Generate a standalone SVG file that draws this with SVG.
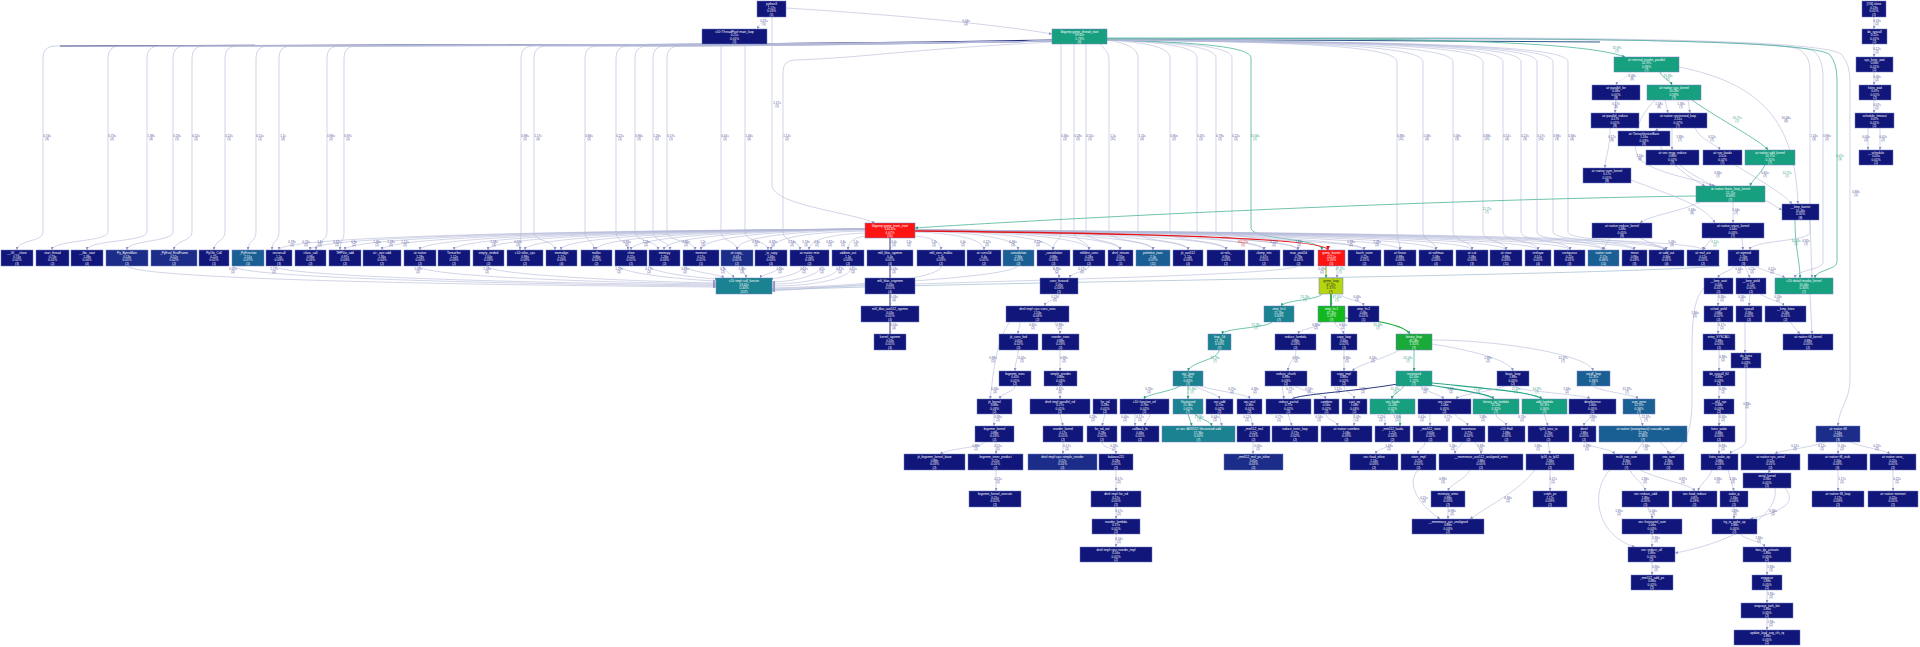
<svg xmlns="http://www.w3.org/2000/svg" width="1920" height="647" viewBox="0 0 1920 647">
<defs>
<style>
rect{stroke:#7680c0;stroke-width:.5}
rect.bg{stroke:none;fill:#ffffff}
.nv{fill:#11167a}.nb{fill:#1b2d88}.tb{fill:#1a5f94}.tl{fill:#1a8290}.tg{fill:#17a07f}.gr{fill:#12b81e}.g2{fill:#19aa3a}.yg{fill:#b5d50e}.rd{fill:#ff1414}
.t{font-family:"Liberation Sans",Arial,sans-serif;font-size:3.1px;fill:#ffffff;text-anchor:middle}
.yg+.t{fill:#222}
.lb{font-family:"Liberation Sans",Arial,sans-serif;font-size:3px;fill:#4b4f96;text-anchor:middle}
.lg{fill:#2f9e84}.lr{fill:#e01818}
.e{fill:none;stroke:#b3b8d8;stroke-width:.6;marker-end:url(#ah)}
.ed{fill:none;stroke:#27327c;stroke-width:1.1}
.et{fill:none;stroke:#4db49a;stroke-width:.8;marker-end:url(#at)}
.er{fill:none;stroke:#e5151a;stroke-width:1.6;marker-end:url(#ar)}
.ey{fill:none;stroke:#9ec21a;stroke-width:1.2;marker-end:url(#at)}
.eg{fill:none;stroke:#1cab3a;stroke-width:1.2;marker-end:url(#at)}
.ek{fill:none;stroke:#2b3a80;stroke-width:1;marker-end:url(#ah)}
.dash{stroke-dasharray:1.5 1}
</style>
<marker id="ah" viewBox="0 0 6 6" refX="6" refY="3" markerWidth="3" markerHeight="3" orient="auto" markerUnits="userSpaceOnUse"><path d="M0,0L6,3L0,6z" fill="#8c92c4"/></marker>
<marker id="at" viewBox="0 0 6 6" refX="6" refY="3" markerWidth="3" markerHeight="3" orient="auto" markerUnits="userSpaceOnUse"><path d="M0,0L6,3L0,6z" fill="#2f9e84"/></marker>
<marker id="ar" viewBox="0 0 6 6" refX="6" refY="3" markerWidth="4" markerHeight="4" orient="auto" markerUnits="userSpaceOnUse"><path d="M0,0L6,3L0,6z" fill="#e5151a"/></marker>
</defs>
<rect class="bg" x="0" y="0" width="1920" height="647"/>

<g id="connectors">
<!-- top -->
<path class="e dash" d="M766,17 C763,22 760,24 757,29"/>
<path class="e" d="M786,8 C900,15 1000,25 1052,34"/>
<path class="e" d="M772,17 L772,185 C772,205 850,212 875,223"/>
<!-- C left bundle -->
<path class="ed" d="M1052,40 C900,43 700,45 400,45 C250,45 150,46 60,46"/>
<path class="e" d="M1052,41 C850,45 123,46 55,46 Q43,46 43,58 L43,232 C43,242 17,240 17,250"/>
<path class="e" d="M1052,41 C850,45 188,46 120,46 Q108,46 108,58 L108,232 C108,242 52,240 52,250"/>
<path class="e" d="M1052,41 C850,45 227,46 159,46 Q147,46 147,58 L147,232 C147,242 87,240 87,250"/>
<path class="e" d="M1052,41 C850,45 253,46 185,46 Q173,46 173,58 L173,232 C173,242 127,240 127,250"/>
<path class="e" d="M1052,41 C850,45 272,46 204,46 Q192,46 192,58 L192,232 C192,242 174,240 174,250"/>
<path class="e" d="M1052,41 C850,45 305,46 237,46 Q225,46 225,58 L225,232 C225,242 214,240 214,250"/>
<path class="e" d="M1052,41 C850,45 336,46 268,46 Q256,46 256,58 L256,232 C256,242 248,240 248,250"/>
<path class="e" d="M1052,41 C850,45 359,46 291,46 Q279,46 279,58 L279,232 C279,242 272,240 272,250"/>
<path class="e" d="M1052,41 C850,45 407,46 339,46 Q327,46 327,58 L327,232 C327,242 316,240 316,250"/>
<path class="e" d="M1052,41 C850,45 424,46 356,46 Q344,46 344,58 L344,232 C344,242 340,240 340,250"/>
<path class="e" d="M1052,41 C850,45 601,46 533,46 Q521,46 521,58 L521,232 C521,242 520,240 520,250"/>
<path class="e" d="M1052,41 C850,45 614,46 546,46 Q534,46 534,58 L534,232 C534,242 555,240 555,250"/>
<path class="e" d="M1052,41 C850,45 665,46 597,46 Q585,46 585,58 L585,232 C585,242 594,240 594,250"/>
<path class="e" d="M1052,41 C850,45 696,46 628,46 Q616,46 616,58 L616,232 C616,242 628,240 628,250"/>
<path class="e" d="M1052,41 C850,45 715,46 647,46 Q635,46 635,58 L635,232 C635,242 658,240 658,250"/>
<path class="e" d="M1052,41 C850,45 733,46 665,46 Q653,46 653,58 L653,232 C653,242 670,240 670,250"/>
<path class="e" d="M1052,41 C850,45 747,46 679,46 Q667,46 667,58 L667,232 C667,242 695,240 695,250"/>
<path class="e" d="M721,44 L721,232 C721,242 737,240 737,250"/>
<path class="e" d="M745,44 L745,232 C745,242 768,240 768,250"/>
<path class="e" d="M1052,42 C900,50 860,58 795,60 Q783,60 783,72 L783,232 C783,242 800,240 800,250"/>
<!-- C right bundle -->
<path class="ed" style="stroke:#2d5a88" d="M1107,39 C1300,40 1500,41 1600,42"/>
<path class="e" d="M1061,44 L1061,232 C1061,242 1053,240 1053,250"/>
<path class="e" d="M1074,44 L1074,232 C1074,242 1089,240 1089,250"/>
<path class="e" d="M1086,44 L1086,232 C1086,242 1120,240 1120,250"/>
<path class="e" d="M1100,44 C1105,50 1109,52 1109,60 L1109,232 C1109,242 1153,240 1153,250"/>
<path class="e" d="M1107,40 C1120,42 1138,46 1138,58 L1138,232 C1138,242 1188,240 1188,250"/>
<path class="e" d="M1107,40 C1140,42 1170,46 1170,58 L1170,232 C1170,242 1226,240 1226,250"/>
<path class="e" d="M1107,40 C1160,42 1197,46 1197,58 L1197,232 C1197,242 1264,240 1264,250"/>
<path class="e" d="M1107,40 C1170,42 1216,46 1216,58 L1216,232 C1216,242 1298,240 1298,250"/>
<path class="e" d="M1107,40 C1180,42 1232,46 1232,58 L1232,232 C1232,242 1364,240 1364,250"/>
<path class="et" d="M1107,40 C1190,42 1251,46 1251,58 L1251,228 C1251,240 1322,238 1322,250"/>
<path class="e" d="M1107,40 C1300,42 1397,46 1397,62 L1397,232 C1397,242 1400,240 1400,250"/>
<path class="e" d="M1107,40 C1320,42 1423,46 1423,62 L1423,232 C1423,242 1436,240 1436,250"/>
<path class="e" d="M1107,40 C1340,42 1453,46 1453,62 L1453,232 C1453,242 1472,240 1472,250"/>
<path class="e" d="M1107,40 C1370,42 1483,46 1483,62 L1483,232 C1483,242 1506,240 1506,250"/>
<path class="e" d="M1107,40 C1390,42 1503,46 1503,62 L1503,232 C1503,242 1538,240 1538,250"/>
<path class="e" d="M1107,40 C1410,42 1521,46 1521,62 L1521,232 C1521,242 1570,240 1570,250"/>
<path class="e" d="M1107,40 C1420,42 1537,46 1537,62 L1537,232 C1537,242 1603,240 1603,250"/>
<path class="e" d="M1107,40 C1430,42 1553,46 1553,62 L1553,232 C1553,242 1634,240 1634,250"/>
<path class="e" d="M1107,40 C1440,42 1568,46 1568,62 L1568,232 C1568,242 1666,240 1666,250"/>
<path class="e" d="M1107,40 C1500,38 1780,38 1800,50 Q1810,56 1810,70 L1810,232 C1810,242 1750,240 1750,250"/>
<path class="e" d="M1107,40 C1500,38 1800,38 1815,52 Q1823,60 1823,76 L1823,262 C1823,270 1795,270 1795,278"/>
<path class="et" d="M1107,39 C1500,37 1815,38 1830,55 Q1837,63 1837,80 L1837,262 C1837,270 1815,270 1815,278"/>
<path class="e" d="M1107,39 C1500,36 1830,37 1842,55 Q1850,64 1850,82 L1850,380 C1850,400 1838,410 1838,426"/>
<path class="et" d="M1107,38 C1400,38 1580,40 1625,57"/>
<!-- red out edges -->
<path class="e" d="M865,229 C572,231 279,236 279,250"/>
<path class="e" d="M865,229 C588,231 310,236 310,250"/>
<path class="e" d="M865,229 C605,231 345,236 345,250"/>
<path class="e" d="M865,229 C624,231 382,236 382,250"/>
<path class="e" d="M865,229 C642,231 420,236 420,250"/>
<path class="e" d="M865,229 C660,231 454,236 454,250"/>
<path class="e" d="M865,229 C676,231 488,236 488,250"/>
<path class="e" d="M865,229 C695,231 525,236 525,250"/>
<path class="e" d="M865,229 C713,231 561,236 561,250"/>
<path class="e" d="M865,229 C730,231 596,236 596,250"/>
<path class="e" d="M865,229 C748,231 631,236 631,250"/>
<path class="e" d="M865,229 C764,231 664,236 664,250"/>
<path class="e" d="M865,229 C783,231 701,236 701,250"/>
<path class="e" d="M865,230 C801,231 737,236 737,250"/>
<path class="e" d="M865,231 C818,232 771,236 771,250"/>
<path class="e" d="M866,233 C837,234 809,238 809,250"/>
<path class="e" d="M867,236 C856,237 848,240 848,250"/>
<path class="ek" d="M890,238 L890,250"/>
<path class="e" d="M914,236 C928,237 941,240 941,250"/>
<path class="e" d="M915,232 C950,233 984,238 984,250"/>
<path class="e" d="M915,231 C966,232 1018,237 1018,250"/>
<path class="e" d="M915,230 C984,232 1053,237 1053,250"/>
<path class="e" d="M915,230 C1002,232 1089,237 1089,250"/>
<path class="e" d="M915,230 C1018,232 1120,237 1120,250"/>
<path class="e" d="M915,230 C1034,232 1153,237 1153,250"/>
<path class="e" d="M915,230 C1052,232 1188,237 1188,250"/>
<path class="e" d="M915,230 C1070,232 1226,237 1226,250"/>
<path class="e" d="M915,230 C1090,232 1264,237 1264,250"/>
<path class="e" d="M915,230 C1106,232 1298,237 1298,250"/>
<path class="e" d="M915,230 C1140,232 1364,237 1364,250"/>
<path class="e" d="M915,230 C1158,232 1400,237 1400,250"/>
<path class="e" d="M915,230 C1176,232 1436,237 1436,250"/>
<path class="e" d="M915,230 C1194,232 1472,237 1472,250"/>
<path class="e" d="M915,230 C1210,232 1506,237 1506,250"/>
<path class="e" d="M915,230 C1226,232 1538,237 1538,250"/>
<path class="e" d="M915,230 C1242,232 1570,237 1570,250"/>
<path class="e" d="M915,230 C1260,232 1603,237 1603,250"/>
<path class="e" d="M915,230 C1274,232 1634,237 1634,250"/>
<path class="e" d="M915,230 C1290,232 1666,237 1666,250"/>
<path class="e" d="M915,230 C1310,232 1703,237 1703,250"/>
<path class="er" d="M915,231 C1130,233 1328,238 1328,250"/>
<!-- into red -->
<path class="et" d="M1696,196 C1400,200 1000,222 915,228"/>
<!-- row to V -->
<path class="e" d="M127,266 C140,282 600,286 716,287"/>
<path class="e" d="M233,266 C240,280 600,285 716,286"/>
<path class="e" d="M274,266 C280,278 600,284 716,285"/>
<path class="e" d="M418,266 C425,278 640,283 716,284"/>
<path class="e" d="M487,266 C490,276 660,282 716,283"/>
<path class="e" d="M619,266 C622,274 690,280 716,281"/>
<path class="e" d="M649,266 C652,273 700,278 718,279"/>
<path class="e" d="M685,266 C688,272 720,274 724,278"/>
<path class="e" d="M723,266 C725,272 732,274 734,278"/>
<path class="e" d="M742,266 C742,272 746,274 746,278"/>
<path class="e" d="M780,266 C780,272 762,274 760,278"/>
<path class="e" d="M804,266 C802,274 780,278 770,279"/>
<path class="e" d="M822,266 C820,276 790,282 772,282"/>
<path class="e" d="M840,266 C838,278 800,284 772,284"/>
<path class="e" d="M853,266 C850,280 810,286 772,286"/>
<path class="e" d="M941,266 C941,280 850,286 772,288"/>
<path class="e" style="stroke:#8fb0c8" d="M1720,266 C1600,276 1000,281 772,290"/>
<path class="e" d="M1298,266 C1280,276 1000,280 772,289"/>
<path class="e" d="M1018,266 C1010,276 900,282 772,291"/>
<!-- chains -->
<path class="ek" d="M890,266 L890,278"/>
<path class="ek" d="M890,294 L890,306"/>
<path class="ek" d="M890,322 L890,334"/>
<path class="e" d="M1053,266 C1053,272 1059,272 1059,278"/>
<path class="e" d="M1089,266 C1089,272 1070,272 1070,278"/>
<path class="e" d="M1059,294 C1059,300 1045,300 1045,306"/>
<path class="e" d="M1020,322 C1020,328 1018,328 1018,334"/>
<path class="e" d="M1055,322 C1055,328 1060,328 1060,334"/>
<path class="e" d="M1010,322 C995,340 993,380 990,399"/>
<path class="e" d="M1018,350 C1018,360 1015,362 1015,371"/>
<path class="e" d="M1060,350 L1060,371"/>
<path class="e" d="M1015,386 C1015,392 1000,393 1000,399"/>
<path class="e" d="M1060,386 L1060,399"/>
<path class="ey" d="M1326,266 L1326,278"/>
<path class="e" d="M1337,266 L1337,278"/>
<path class="et" d="M1322,294 C1318,300 1285,300 1281,306"/>
<path class="eg" style="stroke-width:1.8" d="M1331,294 L1331,306"/>
<path class="e" d="M1340,294 C1345,300 1362,300 1364,306"/>
<path class="et" d="M1272,322 C1268,328 1224,328 1222,334"/>
<path class="e" d="M1322,322 C1320,328 1300,328 1298,334"/>
<path class="e" d="M1335,322 C1336,328 1342,328 1344,334"/>
<path class="eg" d="M1345,318 C1380,320 1405,326 1410,334"/>
<path class="et" d="M1219,350 C1219,360 1190,362 1188,371"/>
<path class="e" d="M1296,350 C1296,360 1288,362 1288,371"/>
<path class="e" d="M1344,350 L1344,371"/>
<path class="et" d="M1414,350 L1414,371"/>
<path class="e" d="M1400,350 C1380,360 1360,364 1352,371"/>
<path class="e" d="M1432,344 C1470,350 1510,360 1513,371"/>
<path class="e" d="M1432,340 C1500,340 1590,355 1593,371"/>
<path class="et" d="M1180,386 C1170,392 1146,394 1144,399"/>
<path class="et" d="M1188,386 L1188,399"/>
<path class="e" d="M1195,386 C1205,392 1218,394 1220,399"/>
<path class="e" d="M1200,386 C1220,392 1248,394 1250,399"/>
<path class="e" d="M1282,386 L1284,399"/>
<path class="e" d="M1295,386 C1305,392 1324,394 1326,399"/>
<path class="e" d="M1344,386 C1344,392 1354,394 1354,399"/>
<path class="ek" d="M1398,384 C1350,392 1300,394 1292,399"/>
<path class="et" d="M1404,386 C1400,392 1392,394 1392,399"/>
<path class="e" d="M1420,386 C1425,392 1440,394 1444,399"/>
<path class="eg" style="stroke:#27a88a" d="M1430,385 C1460,390 1490,394 1494,399"/>
<path class="eg" style="stroke:#27a88a" d="M1432,383 C1480,388 1535,392 1542,399"/>
<path class="e" d="M1513,386 C1520,392 1585,394 1590,399"/>
<path class="e" d="M1505,386 C1490,392 1460,394 1456,399"/>
<path class="e" d="M1593,386 C1600,392 1635,394 1638,399"/>
<!-- R4 to R5 -->
<path class="e" d="M994,414 L994,426"/>
<path class="e" d="M1060,414 L1063,426"/>
<path class="e" d="M1105,414 L1102,426"/>
<path class="e" d="M1135,414 L1135,426"/>
<path class="e" d="M1150,414 C1150,420 1145,420 1145,426"/>
<path class="et" d="M1188,414 L1192,426"/>
<path class="et" d="M1195,414 C1200,420 1210,420 1212,426"/>
<path class="e" d="M1219,414 L1222,426"/>
<path class="e" d="M1250,414 L1253,426"/>
<path class="e" d="M1288,414 L1292,426"/>
<path class="e" d="M1326,414 C1326,420 1336,420 1338,426"/>
<path class="e" d="M1354,414 L1354,426"/>
<path class="e" d="M1385,414 L1385,426"/>
<path class="et" d="M1400,414 L1400,426"/>
<path class="e" d="M1430,414 L1430,426"/>
<path class="e" d="M1455,414 C1458,420 1466,420 1468,426"/>
<path class="e" d="M1496,414 C1496,420 1506,420 1506,426"/>
<path class="e" d="M1544,414 L1548,426"/>
<path class="e" d="M1592,414 C1592,420 1584,420 1584,426"/>
<path class="e" d="M1639,414 L1643,426"/>
<path class="e" d="M1719,414 L1719,426"/>
<!-- R5 to R6 -->
<path class="e" d="M985,442 C980,448 950,448 940,454"/>
<path class="e" d="M996,442 L996,454"/>
<path class="e" d="M1063,442 L1063,454"/>
<path class="e" d="M1102,442 C1102,448 1116,448 1116,454"/>
<path class="e" d="M1253,442 L1253,454"/>
<path class="e" d="M1392,442 C1392,448 1376,448 1376,454"/>
<path class="e" d="M1425,442 C1425,448 1418,448 1418,454"/>
<path class="e" d="M1462,442 C1460,448 1455,448 1455,454"/>
<path class="e" d="M1475,442 C1478,448 1481,448 1481,454"/>
<path class="e" d="M1548,442 L1550,454"/>
<path class="e" d="M1584,442 C1590,448 1610,448 1615,454"/>
<path class="e" d="M1643,442 L1635,454"/>
<path class="e" d="M1660,442 C1665,448 1668,448 1668,454"/>
<path class="e" d="M1719,442 L1719,454"/>
<path class="e" d="M1825,442 C1810,448 1780,450 1775,454"/>
<path class="e" d="M1838,442 L1838,454"/>
<path class="e" d="M1850,442 C1865,448 1885,450 1890,454"/>
<path class="e" d="M1770,470 L1768,473"/>
<!-- R6 to R7 and below -->
<path class="e" d="M996,470 L996,491"/>
<path class="e" d="M1116,470 L1116,491"/>
<path class="e" d="M1470,470 C1465,480 1450,484 1448,491"/>
<path class="e" d="M1550,470 L1550,491"/>
<path class="e" d="M1630,470 C1635,480 1645,484 1645,491"/>
<path class="e" d="M1640,470 C1660,480 1690,484 1695,491"/>
<path class="e" d="M1712,470 C1708,480 1700,484 1698,491"/>
<path class="e" d="M1728,470 L1734,491"/>
<path class="e" d="M1838,470 L1838,491"/>
<path class="e" d="M1893,470 L1893,491"/>
<path class="e" d="M1418,470 C1405,485 1420,505 1440,519"/>
<path class="e" d="M1535,470 C1520,490 1490,505 1470,519"/>
<path class="e" d="M1116,507 L1116,519"/>
<path class="e" d="M1448,507 L1448,519"/>
<path class="e" d="M1648,507 C1648,513 1652,513 1652,519"/>
<path class="e" d="M1734,507 L1734,519"/>
<path class="e" d="M1610,470 C1590,490 1595,535 1635,547"/>
<path class="e" d="M1785,488 C1795,500 1790,510 1750,519"/>
<path class="e" d="M1775,488 C1780,520 1720,545 1675,553"/>
<path class="e" d="M1116,534 L1116,547"/>
<path class="e" d="M1652,534 L1652,547"/>
<path class="e" d="M1740,534 C1745,540 1762,541 1765,547"/>
<path class="e" d="M1652,562 L1652,575"/>
<path class="e" d="M1767,562 L1767,575"/>
<path class="e" d="M1767,590 L1767,603"/>
<path class="e" d="M1767,618 L1767,630"/>
<!-- right column -->
<path class="e" d="M1874,17 L1874,29"/>
<path class="e" d="M1874,44 L1874,57"/>
<path class="e" d="M1874,72 L1874,85"/>
<path class="e" d="M1874,100 L1874,113"/>
<path class="e" d="M1868,128 L1868,150"/>
<path class="e" d="M1880,128 L1880,150"/>
<!-- top right -->
<path class="e dash" d="M1630,72 C1628,78 1618,80 1616,85"/>
<path class="et" d="M1660,72 C1662,78 1670,80 1672,85"/>
<path class="e" d="M1679,67 C1770,85 1795,130 1798,204"/>
<path class="e" d="M1616,100 L1615,113"/>
<path class="e" d="M1665,100 L1668,113"/>
<path class="e" d="M1688,100 L1690,113"/>
<path class="et" d="M1692,100 C1720,120 1760,140 1768,150"/>
<path class="e" d="M1655,100 C1635,120 1630,145 1640,160 C1660,175 1700,180 1715,186"/>
<path class="e" d="M1610,128 C1610,150 1605,158 1605,168"/>
<path class="e" d="M1660,128 L1655,131"/>
<path class="e" d="M1672,128 L1672,150"/>
<path class="e" d="M1695,128 C1700,140 1718,145 1720,150"/>
<path class="e" d="M1660,146 C1670,165 1690,178 1705,186"/>
<path class="e" d="M1680,165 C1690,175 1705,180 1712,186"/>
<path class="e" d="M1735,165 C1760,180 1785,195 1792,204"/>
<path class="et" d="M1765,165 C1760,175 1752,180 1750,186"/>
<path class="e" d="M1631,180 C1670,195 1705,205 1715,223"/>
<path class="e" d="M1700,202 C1680,212 1650,215 1640,223"/>
<path class="e" d="M1733,202 L1733,223"/>
<path class="e" d="M1765,200 L1782,210"/>
<path class="et" d="M1795,220 C1795,250 1800,260 1800,278"/>
<path class="e" d="M1810,220 L1812,278"/>
<path class="e" d="M1742,238 L1743,250"/>
<path class="e" d="M1712,238 L1703,250"/>
<path class="e" d="M1610,238 L1603,250"/>
<path class="e" d="M1640,238 L1666,250"/>
<path class="e" d="M1735,266 C1730,272 1720,272 1718,278"/>
<path class="e" d="M1745,266 L1750,278"/>
<path class="e" d="M1755,266 C1765,272 1780,274 1785,278"/>
<path class="e" d="M1718,294 L1718,306"/>
<path class="e" d="M1750,294 L1749,306"/>
<path class="e" d="M1760,294 C1770,300 1782,302 1784,306"/>
<path class="e" d="M1718,322 L1718,334"/>
<path class="e" d="M1745,322 L1745,353"/>
<path class="e" d="M1790,322 L1800,334"/>
<path class="e" d="M1810,294 L1812,334"/>
<path class="e" d="M1719,350 L1719,371"/>
<path class="e" d="M1719,386 L1719,399"/>
<path class="e" d="M1719,414 L1719,426"/>
<path class="e" d="M1746,368 L1746,440 C1746,448 1732,450 1730,454"/>
<path class="e" d="M1706,286 C1690,300 1692,330 1692,400 C1692,440 1680,450 1668,454"/>
</g>

<g id="edge-labels">
<text class="lb" x="764" y="22">0.21s<tspan x="764" dy="3.2">(5)</tspan></text>
<text class="lb" x="966" y="22">0.04s<tspan x="966" dy="3.2">(2)</tspan></text>
<text class="lb" x="777" y="104">1.17s<tspan x="777" dy="3.2">(1)</tspan></text>
<text class="lb" x="47" y="137">0.74s<tspan x="47" dy="3.2">(3)</tspan></text>
<text class="lb" x="112" y="137">0.73s<tspan x="112" dy="3.2">(2)</tspan></text>
<text class="lb" x="151" y="137">1.38s<tspan x="151" dy="3.2">(4)</tspan></text>
<text class="lb" x="177" y="137">0.13s<tspan x="177" dy="3.2">(1)</tspan></text>
<text class="lb" x="196" y="137">0.52s<tspan x="196" dy="3.2">(2)</tspan></text>
<text class="lb" x="229" y="137">0.22s<tspan x="229" dy="3.2">(1)</tspan></text>
<text class="lb" x="260" y="137">0.51s<tspan x="260" dy="3.2">(1)</tspan></text>
<text class="lb" x="283" y="137">1.1s<tspan x="283" dy="3.2">(3)</tspan></text>
<text class="lb" x="331" y="137">0.96s<tspan x="331" dy="3.2">(2)</tspan></text>
<text class="lb" x="348" y="137">0.97s<tspan x="348" dy="3.2">(2)</tspan></text>
<text class="lb" x="525" y="137">0.98s<tspan x="525" dy="3.2">(2)</tspan></text>
<text class="lb" x="538" y="137">1.17s<tspan x="538" dy="3.2">(4)</tspan></text>
<text class="lb" x="589" y="137">0.86s<tspan x="589" dy="3.2">(2)</tspan></text>
<text class="lb" x="620" y="137">0.22s<tspan x="620" dy="3.2">(1)</tspan></text>
<text class="lb" x="639" y="137">0.96s<tspan x="639" dy="3.2">(2)</tspan></text>
<text class="lb" x="657" y="137">1.26s<tspan x="657" dy="3.2">(2)</tspan></text>
<text class="lb" x="671" y="137">0.17s<tspan x="671" dy="3.2">(1)</tspan></text>
<text class="lb" x="725" y="137">0.41s<tspan x="725" dy="3.2">(2)</tspan></text>
<text class="lb" x="749" y="137">1.46s<tspan x="749" dy="3.2">(4)</tspan></text>
<text class="lb" x="787" y="137">1.12s<tspan x="787" dy="3.2">(2)</tspan></text>
<text class="lb" x="1065" y="137">0.36s<tspan x="1065" dy="3.2">(2)</tspan></text>
<text class="lb" x="1078" y="137">0.28s<tspan x="1078" dy="3.2">(2)</tspan></text>
<text class="lb" x="1090" y="137">0.55s<tspan x="1090" dy="3.2">(1)</tspan></text>
<text class="lb" x="1113" y="137">1.5s<tspan x="1113" dy="3.2">(11)</tspan></text>
<text class="lb" x="1142" y="137">1.11s<tspan x="1142" dy="3.2">(4)</tspan></text>
<text class="lb" x="1174" y="137">0.90s<tspan x="1174" dy="3.2">(2)</tspan></text>
<text class="lb" x="1201" y="137">0.47s<tspan x="1201" dy="3.2">(2)</tspan></text>
<text class="lb" x="1220" y="137">0.78s<tspan x="1220" dy="3.2">(2)</tspan></text>
<text class="lb" x="1236" y="137">0.22s<tspan x="1236" dy="3.2">(2)</tspan></text>
<text class="lb lg" x="1255" y="137">10.34s<tspan x="1255" dy="3.2">(1)</tspan></text>
<text class="lb" x="1401" y="137">0.88s<tspan x="1401" dy="3.2">(11)</tspan></text>
<text class="lb" x="1427" y="137">1.08s<tspan x="1427" dy="3.2">(4)</tspan></text>
<text class="lb" x="1457" y="137">1.08s<tspan x="1457" dy="3.2">(3)</tspan></text>
<text class="lb" x="1487" y="137">0.88s<tspan x="1487" dy="3.2">(11)</tspan></text>
<text class="lb" x="1507" y="137">0.51s<tspan x="1507" dy="3.2">(4)</tspan></text>
<text class="lb" x="1525" y="137">0.22s<tspan x="1525" dy="3.2">(3)</tspan></text>
<text class="lb" x="1541" y="137">0.17s<tspan x="1541" dy="3.2">(11)</tspan></text>
<text class="lb" x="1557" y="137">0.96s<tspan x="1557" dy="3.2">(3)</tspan></text>
<text class="lb" x="1572" y="137">0.36s<tspan x="1572" dy="3.2">(4)</tspan></text>
<text class="lb" x="1814" y="137">1.16s<tspan x="1814" dy="3.2">(3)</tspan></text>
<text class="lb" x="1827" y="137">0.96s<tspan x="1827" dy="3.2">(2)</tspan></text>
<text class="lb lg" x="1840" y="157">6.47s<tspan x="1840" dy="3.2">(3)</tspan></text>
<text class="lb" x="1856" y="193">0.88s<tspan x="1856" dy="3.2">(1)</tspan></text>
<text class="lb lg" x="1617" y="49">32.97s<tspan x="1617" dy="3.2">(7)</tspan></text>
<text class="lb" x="1632" y="77">0.08s<tspan x="1632" dy="3.2">(8)</tspan></text>
<text class="lb lg" x="1668" y="77">20.33s<tspan x="1668" dy="3.2">(7)</tspan></text>
<text class="lb" x="1616" y="105">0.17s<tspan x="1616" dy="3.2">(8)</tspan></text>
<text class="lb" x="1659" y="105">1.18s<tspan x="1659" dy="3.2">(8)</tspan></text>
<text class="lb" x="1681" y="105">1.33s<tspan x="1681" dy="3.2">(7)</tspan></text>
<text class="lb lg" x="1737" y="119">10.71s<tspan x="1737" dy="3.2">(7)</tspan></text>
<text class="lb" x="1786" y="119">10.44s<tspan x="1786" dy="3.2">(8)</tspan></text>
<text class="lb" x="1612" y="138">0.17s<tspan x="1612" dy="3.2">(8)</tspan></text>
<text class="lb" x="1680" y="138">1.88s<tspan x="1680" dy="3.2">(7)</tspan></text>
<text class="lb" x="1712" y="138">0.52s<tspan x="1712" dy="3.2">(7)</tspan></text>
<text class="lb" x="1640" y="157">1.16s<tspan x="1640" dy="3.2">(8)</tspan></text>
<text class="lb" x="1718" y="174">0.86s<tspan x="1718" dy="3.2">(7)</tspan></text>
<text class="lb" x="1765" y="174">0.65s<tspan x="1765" dy="3.2">(7)</tspan></text>
<text class="lb lg" x="1787" y="174">10.71s<tspan x="1787" dy="3.2">(7)</tspan></text>
<text class="lb lg" x="1487" y="210">21.71s<tspan x="1487" dy="3.2">(7)</tspan></text>
<text class="lb" x="1692" y="211">1.68s<tspan x="1692" dy="3.2">(8)</tspan></text>
<text class="lb" x="1736" y="211">1.04s<tspan x="1736" dy="3.2">(7)</tspan></text>
<text class="lb lg" x="1796" y="242">10.43s<tspan x="1796" dy="3.2">(7)</tspan></text>
<text class="lb" x="1806" y="242">0.92s<tspan x="1806" dy="3.2">(7)</tspan></text>
<text class="lb" x="1877" y="22">0.19s<tspan x="1877" dy="3.2">(2)</tspan></text>
<text class="lb" x="1877" y="50">0.12s<tspan x="1877" dy="3.2">(2)</tspan></text>
<text class="lb" x="1877" y="78">0.08s<tspan x="1877" dy="3.2">(2)</tspan></text>
<text class="lb" x="1877" y="106">0.07s<tspan x="1877" dy="3.2">(2)</tspan></text>
<text class="lb" x="1866" y="138">0.05s<tspan x="1866" dy="3.2">(2)</tspan></text>
<text class="lb" x="1883" y="138">0.02s<tspan x="1883" dy="3.2">(2)</tspan></text>
<text class="lb" x="292" y="243">0.78s<tspan x="292" dy="3.2">(2)</tspan></text>
<text class="lb" x="306" y="243">0.73s<tspan x="306" dy="3.2">(2)</tspan></text>
<text class="lb" x="320" y="243">1.1s<tspan x="320" dy="3.2">(2)</tspan></text>
<text class="lb" x="337" y="243">0.42s<tspan x="337" dy="3.2">(2)</tspan></text>
<text class="lb" x="354" y="243">0.9s<tspan x="354" dy="3.2">(2)</tspan></text>
<text class="lb" x="377" y="243">1.36s<tspan x="377" dy="3.2">(2)</tspan></text>
<text class="lb" x="391" y="243">1.28s<tspan x="391" dy="3.2">(2)</tspan></text>
<text class="lb" x="405" y="243">1.12s<tspan x="405" dy="3.2">(2)</tspan></text>
<text class="lb" x="494" y="243">1.04s<tspan x="494" dy="3.2">(2)</tspan></text>
<text class="lb" x="518" y="243">0.52s<tspan x="518" dy="3.2">(2)</tspan></text>
<text class="lb" x="627" y="243">0.86s<tspan x="627" dy="3.2">(2)</tspan></text>
<text class="lb" x="646" y="243">1.11s<tspan x="646" dy="3.2">(2)</tspan></text>
<text class="lb" x="686" y="243">0.96s<tspan x="686" dy="3.2">(2)</tspan></text>
<text class="lb" x="703" y="243">1.2s<tspan x="703" dy="3.2">(2)</tspan></text>
<text class="lb" x="756" y="243">0.92s<tspan x="756" dy="3.2">(2)</tspan></text>
<text class="lb" x="773" y="243">0.33s<tspan x="773" dy="3.2">(2)</tspan></text>
<text class="lb" x="792" y="243">0.14s<tspan x="792" dy="3.2">(2)</tspan></text>
<text class="lb" x="806" y="243">1.19s<tspan x="806" dy="3.2">(2)</tspan></text>
<text class="lb" x="817" y="243">0.6s<tspan x="817" dy="3.2">(2)</tspan></text>
<text class="lb" x="830" y="243">0.82s<tspan x="830" dy="3.2">(2)</tspan></text>
<text class="lb" x="843" y="243">0.9s<tspan x="843" dy="3.2">(2)</tspan></text>
<text class="lb" x="856" y="243">1.1s<tspan x="856" dy="3.2">(2)</tspan></text>
<text class="lb" x="894" y="243">0.4s<tspan x="894" dy="3.2">(2)</tspan></text>
<text class="lb" x="909" y="243">1.2s<tspan x="909" dy="3.2">(2)</tspan></text>
<text class="lb" x="934" y="243">1.2s<tspan x="934" dy="3.2">(2)</tspan></text>
<text class="lb" x="963" y="243">0.4s<tspan x="963" dy="3.2">(2)</tspan></text>
<text class="lb" x="987" y="243">0.22s<tspan x="987" dy="3.2">(2)</tspan></text>
<text class="lb" x="1013" y="243">0.36s<tspan x="1013" dy="3.2">(2)</tspan></text>
<text class="lb" x="1038" y="243">0.22s<tspan x="1038" dy="3.2">(2)</tspan></text>
<text class="lb lr" x="1243" y="243">102.21s<tspan x="1243" dy="3.2">(5)</tspan></text>
<text class="lb" x="1274" y="243">0.22s<tspan x="1274" dy="3.2">(2)</tspan></text>
<text class="lb" x="1299" y="243">1.88s<tspan x="1299" dy="3.2">(2)</tspan></text>
<text class="lb" x="1351" y="243">0.39s<tspan x="1351" dy="3.2">(2)</tspan></text>
<text class="lb" x="1377" y="243">1.08s<tspan x="1377" dy="3.2">(2)</tspan></text>
<text class="lb" x="1672" y="243">1.08s<tspan x="1672" dy="3.2">(2)</tspan></text>
<text class="lb lg" x="1715" y="243">0.12s<tspan x="1715" dy="3.2">(2)</tspan></text>
<text class="lb" x="233" y="270">0.92s<tspan x="233" dy="3.2">(2)</tspan></text>
<text class="lb" x="274" y="270">1.17s<tspan x="274" dy="3.2">(2)</tspan></text>
<text class="lb" x="418" y="270">1.08s<tspan x="418" dy="3.2">(2)</tspan></text>
<text class="lb" x="487" y="270">1.08s<tspan x="487" dy="3.2">(2)</tspan></text>
<text class="lb" x="619" y="270">1.28s<tspan x="619" dy="3.2">(2)</tspan></text>
<text class="lb" x="649" y="270">0.17s<tspan x="649" dy="3.2">(2)</tspan></text>
<text class="lb" x="685" y="270">0.86s<tspan x="685" dy="3.2">(2)</tspan></text>
<text class="lb" x="723" y="270">0.8s<tspan x="723" dy="3.2">(2)</tspan></text>
<text class="lb" x="742" y="270">1.08s<tspan x="742" dy="3.2">(2)</tspan></text>
<text class="lb" x="780" y="270">1.06s<tspan x="780" dy="3.2">(2)</tspan></text>
<text class="lb" x="804" y="270">0.62s<tspan x="804" dy="3.2">(2)</tspan></text>
<text class="lb" x="822" y="270">0.2s<tspan x="822" dy="3.2">(2)</tspan></text>
<text class="lb" x="840" y="270">0.17s<tspan x="840" dy="3.2">(2)</tspan></text>
<text class="lb" x="853" y="270">0.15s<tspan x="853" dy="3.2">(2)</tspan></text>
<text class="lb" x="894" y="270">0.03s<tspan x="894" dy="3.2">(2)</tspan></text>
<text class="lb" x="1057" y="270">0.88s<tspan x="1057" dy="3.2">(2)</tspan></text>
<text class="lb" x="1082" y="270">0.17s<tspan x="1082" dy="3.2">(2)</tspan></text>
<text class="lb" x="1322" y="270">0.09s<tspan x="1322" dy="3.2">(2)</tspan></text>
<text class="lb lg" x="1340" y="270">47.37s<tspan x="1340" dy="3.2">(7)</tspan></text>
<text class="lb" x="1739" y="270">0.44s<tspan x="1739" dy="3.2">(2)</tspan></text>
<text class="lb" x="1752" y="270">0.11s<tspan x="1752" dy="3.2">(2)</tspan></text>
<text class="lb" x="1772" y="270">0.12s<tspan x="1772" dy="3.2">(2)</tspan></text>
<text class="lb" x="894" y="298">0.03s<tspan x="894" dy="3.2">(4)</tspan></text>
<text class="lb" x="894" y="326">0.03s<tspan x="894" dy="3.2">(4)</tspan></text>
<text class="lb" x="1055" y="298">0.17s<tspan x="1055" dy="3.2">(2)</tspan></text>
<text class="lb lg" x="1305" y="298">21.76s<tspan x="1305" dy="3.2">(7)</tspan></text>
<text class="lb lg" x="1337" y="298">47.31s<tspan x="1337" dy="3.2">(7)</tspan></text>
<text class="lb" x="1357" y="298">0.08s<tspan x="1357" dy="3.2">(1)</tspan></text>
<text class="lb" x="1722" y="298">0.86s<tspan x="1722" dy="3.2">(2)</tspan></text>
<text class="lb" x="1742" y="298">0.36s<tspan x="1742" dy="3.2">(2)</tspan></text>
<text class="lb" x="1778" y="298">0.18s<tspan x="1778" dy="3.2">(2)</tspan></text>
<text class="lb" x="1695" y="314">1.36s<tspan x="1695" dy="3.2">(2)</tspan></text>
<text class="lb" x="1033" y="326">0.65s<tspan x="1033" dy="3.2">(2)</tspan></text>
<text class="lb" x="1060" y="326">0.88s<tspan x="1060" dy="3.2">(2)</tspan></text>
<text class="lb lg" x="1256" y="326">21.76s<tspan x="1256" dy="3.2">(7)</tspan></text>
<text class="lb" x="1316" y="326">0.88s<tspan x="1316" dy="3.2">(2)</tspan></text>
<text class="lb" x="1343" y="326">0.66s<tspan x="1343" dy="3.2">(2)</tspan></text>
<text class="lb lg" x="1378" y="326">45.08s<tspan x="1378" dy="3.2">(7)</tspan></text>
<text class="lb" x="1722" y="326">0.17s<tspan x="1722" dy="3.2">(2)</tspan></text>
<text class="lb" x="993" y="359">0.88s<tspan x="993" dy="3.2">(2)</tspan></text>
<text class="lb" x="1022" y="359">0.45s<tspan x="1022" dy="3.2">(2)</tspan></text>
<text class="lb" x="1064" y="359">0.88s<tspan x="1064" dy="3.2">(2)</tspan></text>
<text class="lb lg" x="1215" y="359">21.76s<tspan x="1215" dy="3.2">(7)</tspan></text>
<text class="lb" x="1296" y="359">0.88s<tspan x="1296" dy="3.2">(2)</tspan></text>
<text class="lb" x="1347" y="359">0.86s<tspan x="1347" dy="3.2">(2)</tspan></text>
<text class="lb" x="1373" y="359">0.24s<tspan x="1373" dy="3.2">(2)</tspan></text>
<text class="lb lg" x="1408" y="359">42.03s<tspan x="1408" dy="3.2">(7)</tspan></text>
<text class="lb" x="1488" y="359">1.88s<tspan x="1488" dy="3.2">(2)</tspan></text>
<text class="lb" x="1563" y="359">12.37s<tspan x="1563" dy="3.2">(7)</tspan></text>
<text class="lb" x="1723" y="358">0.88s<tspan x="1723" dy="3.2">(2)</tspan></text>
<text class="lb" x="995" y="390">0.48s<tspan x="995" dy="3.2">(2)</tspan></text>
<text class="lb" x="1060" y="390">0.17s<tspan x="1060" dy="3.2">(2)</tspan></text>
<text class="lb" x="1149" y="390">0.76s<tspan x="1149" dy="3.2">(2)</tspan></text>
<text class="lb lg" x="1192" y="390">21.36s<tspan x="1192" dy="3.2">(7)</tspan></text>
<text class="lb" x="1232" y="390">0.75s<tspan x="1232" dy="3.2">(2)</tspan></text>
<text class="lb" x="1255" y="390">0.36s<tspan x="1255" dy="3.2">(2)</tspan></text>
<text class="lb" x="1290" y="390">0.77s<tspan x="1290" dy="3.2">(2)</tspan></text>
<text class="lb" x="1309" y="390">0.56s<tspan x="1309" dy="3.2">(2)</tspan></text>
<text class="lb" x="1338" y="390">1.12s<tspan x="1338" dy="3.2">(2)</tspan></text>
<text class="lb" x="1363" y="390">1.08s<tspan x="1363" dy="3.2">(2)</tspan></text>
<text class="lb lg" x="1395" y="390">11.18s<tspan x="1395" dy="3.2">(7)</tspan></text>
<text class="lb" x="1425" y="390">1.56s<tspan x="1425" dy="3.2">(2)</tspan></text>
<text class="lb" x="1451" y="390">1.87s<tspan x="1451" dy="3.2">(2)</tspan></text>
<text class="lb lg" x="1478" y="390">11.11s<tspan x="1478" dy="3.2">(7)</tspan></text>
<text class="lb lg" x="1516" y="390">11.11s<tspan x="1516" dy="3.2">(7)</tspan></text>
<text class="lb lg" x="1537" y="390">10.37s<tspan x="1537" dy="3.2">(7)</tspan></text>
<text class="lb" x="1567" y="390">1.84s<tspan x="1567" dy="3.2">(2)</tspan></text>
<text class="lb" x="1627" y="390">12.37s<tspan x="1627" dy="3.2">(7)</tspan></text>
<text class="lb" x="1723" y="390">0.88s<tspan x="1723" dy="3.2">(2)</tspan></text>
<text class="lb" x="1747" y="405">0.88s<tspan x="1747" dy="3.2">(2)</tspan></text>
<text class="lb" x="998" y="418">0.88s<tspan x="998" dy="3.2">(2)</tspan></text>
<text class="lb" x="1093" y="418">0.28s<tspan x="1093" dy="3.2">(2)</tspan></text>
<text class="lb" x="1125" y="418">0.46s<tspan x="1125" dy="3.2">(2)</tspan></text>
<text class="lb" x="1140" y="418">0.17s<tspan x="1140" dy="3.2">(2)</tspan></text>
<text class="lb lg" x="1199" y="418">17.36s<tspan x="1199" dy="3.2">(7)</tspan></text>
<text class="lb" x="1215" y="418">0.44s<tspan x="1215" dy="3.2">(2)</tspan></text>
<text class="lb" x="1247" y="418">0.12s<tspan x="1247" dy="3.2">(2)</tspan></text>
<text class="lb" x="1279" y="418">0.77s<tspan x="1279" dy="3.2">(2)</tspan></text>
<text class="lb" x="1319" y="418">0.56s<tspan x="1319" dy="3.2">(2)</tspan></text>
<text class="lb" x="1357" y="418">1.08s<tspan x="1357" dy="3.2">(2)</tspan></text>
<text class="lb" x="1381" y="418">1.22s<tspan x="1381" dy="3.2">(2)</tspan></text>
<text class="lb" x="1397" y="418">1.88s<tspan x="1397" dy="3.2">(2)</tspan></text>
<text class="lb" x="1422" y="418">0.63s<tspan x="1422" dy="3.2">(2)</tspan></text>
<text class="lb" x="1448" y="418">0.77s<tspan x="1448" dy="3.2">(2)</tspan></text>
<text class="lb" x="1483" y="418">1.88s<tspan x="1483" dy="3.2">(2)</tspan></text>
<text class="lb" x="1522" y="418">0.76s<tspan x="1522" dy="3.2">(2)</tspan></text>
<text class="lb" x="1593" y="418">1.88s<tspan x="1593" dy="3.2">(2)</tspan></text>
<text class="lb" x="1646" y="418">12.37s<tspan x="1646" dy="3.2">(7)</tspan></text>
<text class="lb" x="1723" y="418">0.88s<tspan x="1723" dy="3.2">(2)</tspan></text>
<text class="lb" x="976" y="447">0.88s<tspan x="976" dy="3.2">(2)</tspan></text>
<text class="lb" x="998" y="447">0.21s<tspan x="998" dy="3.2">(2)</tspan></text>
<text class="lb" x="1067" y="447">0.17s<tspan x="1067" dy="3.2">(2)</tspan></text>
<text class="lb" x="1114" y="447">0.28s<tspan x="1114" dy="3.2">(2)</tspan></text>
<text class="lb" x="1258" y="447">0.05s<tspan x="1258" dy="3.2">(2)</tspan></text>
<text class="lb" x="1389" y="447">1.16s<tspan x="1389" dy="3.2">(2)</tspan></text>
<text class="lb" x="1453" y="447">1.36s<tspan x="1453" dy="3.2">(2)</tspan></text>
<text class="lb" x="1481" y="447">1.88s<tspan x="1481" dy="3.2">(2)</tspan></text>
<text class="lb" x="1538" y="447">1.86s<tspan x="1538" dy="3.2">(2)</tspan></text>
<text class="lb" x="1587" y="447">0.43s<tspan x="1587" dy="3.2">(2)</tspan></text>
<text class="lb" x="1646" y="447">1.86s<tspan x="1646" dy="3.2">(2)</tspan></text>
<text class="lb" x="1723" y="447">0.88s<tspan x="1723" dy="3.2">(2)</tspan></text>
<text class="lb" x="1795" y="447">0.12s<tspan x="1795" dy="3.2">(2)</tspan></text>
<text class="lb" x="1822" y="447">0.12s<tspan x="1822" dy="3.2">(2)</tspan></text>
<text class="lb" x="1842" y="447">1.16s<tspan x="1842" dy="3.2">(2)</tspan></text>
<text class="lb" x="1877" y="447">0.22s<tspan x="1877" dy="3.2">(2)</tspan></text>
<text class="lb" x="998" y="480">0.21s<tspan x="998" dy="3.2">(2)</tspan></text>
<text class="lb" x="1119" y="480">0.17s<tspan x="1119" dy="3.2">(2)</tspan></text>
<text class="lb" x="1443" y="480">0.88s<tspan x="1443" dy="3.2">(2)</tspan></text>
<text class="lb" x="1553" y="480">1.17s<tspan x="1553" dy="3.2">(2)</tspan></text>
<text class="lb" x="1645" y="480">1.86s<tspan x="1645" dy="3.2">(2)</tspan></text>
<text class="lb" x="1683" y="480">0.87s<tspan x="1683" dy="3.2">(2)</tspan></text>
<text class="lb" x="1718" y="480">0.86s<tspan x="1718" dy="3.2">(2)</tspan></text>
<text class="lb" x="1733" y="480">1.36s<tspan x="1733" dy="3.2">(2)</tspan></text>
<text class="lb" x="1842" y="480">1.17s<tspan x="1842" dy="3.2">(2)</tspan></text>
<text class="lb" x="1897" y="480">0.22s<tspan x="1897" dy="3.2">(2)</tspan></text>
<text class="lb" x="1424" y="499">0.21s<tspan x="1424" dy="3.2">(2)</tspan></text>
<text class="lb" x="1508" y="499">0.36s<tspan x="1508" dy="3.2">(2)</tspan></text>
<text class="lb" x="1119" y="512">0.17s<tspan x="1119" dy="3.2">(2)</tspan></text>
<text class="lb" x="1452" y="512">0.88s<tspan x="1452" dy="3.2">(2)</tspan></text>
<text class="lb" x="1619" y="512">1.85s<tspan x="1619" dy="3.2">(2)</tspan></text>
<text class="lb" x="1653" y="512">1.06s<tspan x="1653" dy="3.2">(2)</tspan></text>
<text class="lb" x="1735" y="512">1.88s<tspan x="1735" dy="3.2">(2)</tspan></text>
<text class="lb" x="1773" y="512">0.36s<tspan x="1773" dy="3.2">(2)</tspan></text>
<text class="lb" x="1119" y="540">0.16s<tspan x="1119" dy="3.2">(2)</tspan></text>
<text class="lb" x="1656" y="539">1.86s<tspan x="1656" dy="3.2">(2)</tspan></text>
<text class="lb" x="1759" y="539">1.86s<tspan x="1759" dy="3.2">(2)</tspan></text>
<text class="lb" x="1656" y="568">0.86s<tspan x="1656" dy="3.2">(2)</tspan></text>
<text class="lb" x="1771" y="568">1.88s<tspan x="1771" dy="3.2">(2)</tspan></text>
<text class="lb" x="1771" y="595">1.86s<tspan x="1771" dy="3.2">(2)</tspan></text>
<text class="lb" x="1771" y="623">1.86s<tspan x="1771" dy="3.2">(2)</tspan></text>
</g>

<g id="n_a"><rect class="nv" x="757" y="1" width="29" height="16"/><text class="t" x="771.5" y="5.2">python3<tspan x="771.5" dy="3.5">1.17s</tspan><tspan x="771.5" dy="3.5">0.03%</tspan><tspan x="771.5" dy="3.5">(1)</tspan></text></g>
<g id="n_b"><rect class="nv" x="702" y="29" width="65" height="15"/><text class="t" x="734.5" y="33">c10::ThreadPool::main_loop<tspan x="734.5" dy="3.4">0.21s</tspan><tspan x="734.5" dy="3.4">0.01%</tspan><tspan x="734.5" dy="3.4">(5)</tspan></text></g>
<g id="n_c"><rect class="tg" x="1052" y="29" width="55" height="15"/><text class="t" x="1079.5" y="33">libgomp gomp_thread_start<tspan x="1079.5" dy="3.4">59.62s</tspan><tspan x="1079.5" dy="3.4">1.73%</tspan><tspan x="1079.5" dy="3.4">(6)</tspan></text></g>
<g id="n_d"><rect class="tg" x="1614" y="57" width="65" height="15"/><text class="t" x="1646.5" y="61">at::internal::invoke_parallel<tspan x="1646.5" dy="3.4">32.97s</tspan><tspan x="1646.5" dy="3.4">0.96%</tspan><tspan x="1646.5" dy="3.4">(7)</tspan></text></g>
<g id="n_e"><rect class="nv" x="1592" y="85" width="48" height="15"/><text class="t" x="1616" y="89">at::parallel_for<tspan x="1616" dy="3.4">0.08s</tspan><tspan x="1616" dy="3.4">0.01%</tspan><tspan x="1616" dy="3.4">(8)</tspan></text></g>
<g id="n_f"><rect class="tg" x="1647" y="85" width="54" height="15"/><text class="t" x="1674" y="89">at::native::cpu_kernel<tspan x="1674" dy="3.4">20.33s</tspan><tspan x="1674" dy="3.4">0.59%</tspan><tspan x="1674" dy="3.4">(7)</tspan></text></g>
<g id="n_g"><rect class="nv" x="1591" y="113" width="48" height="15"/><text class="t" x="1615" y="117">at::parallel_reduce<tspan x="1615" dy="3.4">0.17s</tspan><tspan x="1615" dy="3.4">0.01%</tspan><tspan x="1615" dy="3.4">(8)</tspan></text></g>
<g id="n_h"><rect class="nv" x="1649" y="113" width="58" height="15"/><text class="t" x="1678" y="117">at::native::vectorized_loop<tspan x="1678" dy="3.4">2.51s</tspan><tspan x="1678" dy="3.4">0.07%</tspan><tspan x="1678" dy="3.4">(7)</tspan></text></g>
<g id="n_i"><rect class="nv" x="1618" y="131" width="52" height="15"/><text class="t" x="1644" y="135">at::TensorIteratorBase<tspan x="1644" dy="3.4">1.16s</tspan><tspan x="1644" dy="3.4">0.03%</tspan><tspan x="1644" dy="3.4">(8)</tspan></text></g>
<g id="n_j"><rect class="nv" x="1646" y="150" width="53" height="15"/><text class="t" x="1672.5" y="154">at::vec::map_reduce<tspan x="1672.5" dy="3.4">0.86s</tspan><tspan x="1672.5" dy="3.4">0.02%</tspan><tspan x="1672.5" dy="3.4">(7)</tspan></text></g>
<g id="n_k"><rect class="nv" x="1703" y="150" width="39" height="15"/><text class="t" x="1722.5" y="154">at::vec::loadu<tspan x="1722.5" dy="3.4">0.52s</tspan><tspan x="1722.5" dy="3.4">0.02%</tspan><tspan x="1722.5" dy="3.4">(7)</tspan></text></g>
<g id="n_l"><rect class="tg" x="1745" y="150" width="50" height="15"/><text class="t" x="1770" y="154">at::native::add_kernel<tspan x="1770" dy="3.4">10.71s</tspan><tspan x="1770" dy="3.4">0.31%</tspan><tspan x="1770" dy="3.4">(7)</tspan></text></g>
<g id="n_m"><rect class="nv" x="1583" y="168" width="48" height="15"/><text class="t" x="1607" y="172">at::native::sum_kernel<tspan x="1607" dy="3.4">0.17s</tspan><tspan x="1607" dy="3.4">0.01%</tspan><tspan x="1607" dy="3.4">(8)</tspan></text></g>
<g id="n_n"><rect class="tg" x="1696" y="186" width="69" height="16"/><text class="t" x="1730.5" y="190.2">at::native::basic_loop_kernel<tspan x="1730.5" dy="3.5">21.71s</tspan><tspan x="1730.5" dy="3.5">0.63%</tspan><tspan x="1730.5" dy="3.5">(7)</tspan></text></g>
<g id="n_o"><rect class="nv" x="1782" y="204" width="37" height="16"/><text class="t" x="1800.5" y="208.2">__kmp_barrier<tspan x="1800.5" dy="3.5">10.44s</tspan><tspan x="1800.5" dy="3.5">0.30%</tspan><tspan x="1800.5" dy="3.5">(8)</tspan></text></g>
<g id="n_p1"><rect class="nv" x="1862" y="1" width="24" height="16"/><text class="t" x="1874" y="5.2">[OS] clone<tspan x="1874" dy="3.5">0.19s</tspan><tspan x="1874" dy="3.5">0.01%</tspan><tspan x="1874" dy="3.5">(2)</tspan></text></g>
<g id="n_p2"><rect class="nv" x="1862" y="29" width="25" height="15"/><text class="t" x="1874.5" y="33">do_syscall<tspan x="1874.5" dy="3.4">0.12s</tspan><tspan x="1874.5" dy="3.4">0.01%</tspan><tspan x="1874.5" dy="3.4">(2)</tspan></text></g>
<g id="n_p3"><rect class="nv" x="1856" y="57" width="37" height="15"/><text class="t" x="1874.5" y="61">sys_futex_wait<tspan x="1874.5" dy="3.4">0.08s</tspan><tspan x="1874.5" dy="3.4">0.01%</tspan><tspan x="1874.5" dy="3.4">(2)</tspan></text></g>
<g id="n_p4"><rect class="nv" x="1859" y="85" width="32" height="15"/><text class="t" x="1875" y="89">futex_wait<tspan x="1875" dy="3.4">0.07s</tspan><tspan x="1875" dy="3.4">0.01%</tspan><tspan x="1875" dy="3.4">(2)</tspan></text></g>
<g id="n_p5"><rect class="nv" x="1855" y="113" width="39" height="15"/><text class="t" x="1874.5" y="117">schedule_timeout<tspan x="1874.5" dy="3.4">0.07s</tspan><tspan x="1874.5" dy="3.4">0.01%</tspan><tspan x="1874.5" dy="3.4">(2)</tspan></text></g>
<g id="n_p6"><rect class="nv" x="1859" y="150" width="34" height="15"/><text class="t" x="1876" y="154">__schedule<tspan x="1876" dy="3.4">0.05s</tspan><tspan x="1876" dy="3.4">0.01%</tspan><tspan x="1876" dy="3.4">(2)</tspan></text></g>
<g id="n_qa"><rect class="nv" x="1592" y="223" width="60" height="15"/><text class="t" x="1622" y="227">at::native::reduce_kernel<tspan x="1622" dy="3.4">1.68s</tspan><tspan x="1622" dy="3.4">0.05%</tspan><tspan x="1622" dy="3.4">(8)</tspan></text></g>
<g id="n_qb"><rect class="nv" x="1702" y="223" width="62" height="15"/><text class="t" x="1733" y="227">at::native::unary_kernel<tspan x="1733" dy="3.4">1.04s</tspan><tspan x="1733" dy="3.4">0.03%</tspan><tspan x="1733" dy="3.4">(7)</tspan></text></g>
<g id="n_red"><rect class="rd" x="865" y="223" width="50" height="15"/><text class="t" x="890" y="227">libgomp gomp_team_start<tspan x="890" dy="3.4">140.32s</tspan><tspan x="890" dy="3.4">4.07%</tspan><tspan x="890" dy="3.4">(16)</tspan></text></g>

<g id="n_r01"><rect class="nv" x="1" y="250" width="32" height="16"/><text class="t" x="17" y="254.2">__GI___clone<tspan x="17" dy="3.5">0.74s</tspan><tspan x="17" dy="3.5">0.02%</tspan><tspan x="17" dy="3.5">(3)</tspan></text></g>
<g id="n_r02"><rect class="nv" x="36" y="250" width="33" height="16"/><text class="t" x="52.5" y="254.2">start_thread<tspan x="52.5" dy="3.5">0.73s</tspan><tspan x="52.5" dy="3.5">0.02%</tspan><tspan x="52.5" dy="3.5">(2)</tspan></text></g>
<g id="n_r03"><rect class="nv" x="71" y="250" width="32" height="16"/><text class="t" x="87" y="254.2">__libc_start<tspan x="87" dy="3.5">1.38s</tspan><tspan x="87" dy="3.5">0.04%</tspan><tspan x="87" dy="3.5">(4)</tspan></text></g>
<g id="n_r04"><rect class="nb" x="106" y="250" width="42" height="16"/><text class="t" x="127" y="254.2">Py_BytesMain<tspan x="127" dy="3.5">0.13s</tspan><tspan x="127" dy="3.5">0.01%</tspan><tspan x="127" dy="3.5">(1)</tspan></text></g>
<g id="n_r05"><rect class="nb" x="151" y="250" width="46" height="16"/><text class="t" x="174" y="254.2">_PyEval_EvalFrame<tspan x="174" dy="3.5">0.52s</tspan><tspan x="174" dy="3.5">0.02%</tspan><tspan x="174" dy="3.5">(2)</tspan></text></g>
<g id="n_r06"><rect class="nv" x="199" y="250" width="30" height="16"/><text class="t" x="214" y="254.2">PyObj_Call<tspan x="214" dy="3.5">0.22s</tspan><tspan x="214" dy="3.5">0.01%</tspan><tspan x="214" dy="3.5">(1)</tspan></text></g>
<g id="n_r07"><rect class="tb" x="232" y="250" width="32" height="16"/><text class="t" x="248" y="254.2">_PyFunction<tspan x="248" dy="3.5">2.51s</tspan><tspan x="248" dy="3.5">0.07%</tspan><tspan x="248" dy="3.5">(1)</tspan></text></g>
<g id="n_r08"><rect class="nv" x="266" y="250" width="26" height="16"/><text class="t" x="279" y="254.2">vectorcall<tspan x="279" dy="3.5">1.1s</tspan><tspan x="279" dy="3.5">0.03%</tspan><tspan x="279" dy="3.5">(3)</tspan></text></g>
<g id="n_r09"><rect class="nv" x="295" y="250" width="31" height="16"/><text class="t" x="310.5" y="254.2">cfunc_call<tspan x="310.5" dy="3.5">0.96s</tspan><tspan x="310.5" dy="3.5">0.03%</tspan><tspan x="310.5" dy="3.5">(2)</tspan></text></g>
<g id="n_r10"><rect class="nv" x="329" y="250" width="32" height="16"/><text class="t" x="345" y="254.2">THPVar_add<tspan x="345" dy="3.5">0.97s</tspan><tspan x="345" dy="3.5">0.03%</tspan><tspan x="345" dy="3.5">(2)</tspan></text></g>
<g id="n_r11"><rect class="nv" x="363" y="250" width="38" height="16"/><text class="t" x="382" y="254.2">at::_ops::add<tspan x="382" dy="3.5">1.36s</tspan><tspan x="382" dy="3.5">0.04%</tspan><tspan x="382" dy="3.5">(2)</tspan></text></g>
<g id="n_r12"><rect class="nv" x="404" y="250" width="32" height="16"/><text class="t" x="420" y="254.2">at::native<tspan x="420" dy="3.5">1.28s</tspan><tspan x="420" dy="3.5">0.04%</tspan><tspan x="420" dy="3.5">(2)</tspan></text></g>
<g id="n_r13"><rect class="nv" x="438" y="250" width="32" height="16"/><text class="t" x="454" y="254.2">TensorIter<tspan x="454" dy="3.5">1.12s</tspan><tspan x="454" dy="3.5">0.03%</tspan><tspan x="454" dy="3.5">(2)</tspan></text></g>
<g id="n_r14"><rect class="nv" x="473" y="250" width="31" height="16"/><text class="t" x="488.5" y="254.2">empty_strided<tspan x="488.5" dy="3.5">1.04s</tspan><tspan x="488.5" dy="3.5">0.03%</tspan><tspan x="488.5" dy="3.5">(2)</tspan></text></g>
<g id="n_r15"><rect class="nv" x="507" y="250" width="36" height="16"/><text class="t" x="525" y="254.2">c10::alloc_cpu<tspan x="525" dy="3.5">0.98s</tspan><tspan x="525" dy="3.5">0.03%</tspan><tspan x="525" dy="3.5">(2)</tspan></text></g>
<g id="n_r16"><rect class="nv" x="546" y="250" width="31" height="16"/><text class="t" x="561.5" y="254.2">memalign<tspan x="561.5" dy="3.5">1.17s</tspan><tspan x="561.5" dy="3.5">0.03%</tspan><tspan x="561.5" dy="3.5">(4)</tspan></text></g>
<g id="n_r17"><rect class="nv" x="581" y="250" width="31" height="16"/><text class="t" x="596.5" y="254.2">malloc<tspan x="596.5" dy="3.5">0.86s</tspan><tspan x="596.5" dy="3.5">0.02%</tspan><tspan x="596.5" dy="3.5">(2)</tspan></text></g>
<g id="n_r18"><rect class="nv" x="615" y="250" width="32" height="16"/><text class="t" x="631" y="254.2">cfree<tspan x="631" dy="3.5">0.22s</tspan><tspan x="631" dy="3.5">0.01%</tspan><tspan x="631" dy="3.5">(1)</tspan></text></g>
<g id="n_r19"><rect class="nv" x="649" y="250" width="31" height="16"/><text class="t" x="664.5" y="254.2">memcpy<tspan x="664.5" dy="3.5">1.26s</tspan><tspan x="664.5" dy="3.5">0.04%</tspan><tspan x="664.5" dy="3.5">(2)</tspan></text></g>
<g id="n_r20"><rect class="nv" x="683" y="250" width="36" height="16"/><text class="t" x="701" y="254.2">memset<tspan x="701" dy="3.5">0.17s</tspan><tspan x="701" dy="3.5">0.01%</tspan><tspan x="701" dy="3.5">(1)</tspan></text></g>
<g id="n_r21"><rect class="nb" x="721" y="250" width="32" height="16"/><text class="t" x="737" y="254.2">at::copy_<tspan x="737" dy="3.5">0.41s</tspan><tspan x="737" dy="3.5">0.01%</tspan><tspan x="737" dy="3.5">(2)</tspan></text></g>
<g id="n_r22"><rect class="nv" x="755" y="250" width="32" height="16"/><text class="t" x="771" y="254.2">_to_copy<tspan x="771" dy="3.5">1.46s</tspan><tspan x="771" dy="3.5">0.04%</tspan><tspan x="771" dy="3.5">(4)</tspan></text></g>
<g id="n_r23"><rect class="nv" x="790" y="250" width="39" height="16"/><text class="t" x="809.5" y="254.2">at::native::mm<tspan x="809.5" dy="3.5">1.12s</tspan><tspan x="809.5" dy="3.5">0.03%</tspan><tspan x="809.5" dy="3.5">(2)</tspan></text></g>
<g id="n_r24"><rect class="nv" x="832" y="250" width="32" height="16"/><text class="t" x="848" y="254.2">addmm_out<tspan x="848" dy="3.5">1.1s</tspan><tspan x="848" dy="3.5">0.03%</tspan><tspan x="848" dy="3.5">(2)</tspan></text></g>
<g id="n_r25"><rect class="nv" x="867" y="250" width="46" height="16"/><text class="t" x="890" y="254.2">mkl_blas_sgemm<tspan x="890" dy="3.5">0.4s</tspan><tspan x="890" dy="3.5">0.01%</tspan><tspan x="890" dy="3.5">(4)</tspan></text></g>
<g id="n_r26"><rect class="nv" x="917" y="250" width="48" height="16"/><text class="t" x="941" y="254.2">mkl_serv_malloc<tspan x="941" dy="3.5">1.2s</tspan><tspan x="941" dy="3.5">0.03%</tspan><tspan x="941" dy="3.5">(2)</tspan></text></g>
<g id="n_r27"><rect class="nv" x="967" y="250" width="34" height="16"/><text class="t" x="984" y="254.2">at::conv2d<tspan x="984" dy="3.5">0.4s</tspan><tspan x="984" dy="3.5">0.01%</tspan><tspan x="984" dy="3.5">(2)</tspan></text></g>
<g id="n_r28"><rect class="tb" x="1003" y="250" width="31" height="16"/><text class="t" x="1018.5" y="254.2">convolution<tspan x="1018.5" dy="3.5">2.36s</tspan><tspan x="1018.5" dy="3.5">0.07%</tspan><tspan x="1018.5" dy="3.5">(2)</tspan></text></g>
<g id="n_r29"><rect class="nv" x="1037" y="250" width="33" height="16"/><text class="t" x="1053.5" y="254.2">_convolution<tspan x="1053.5" dy="3.5">0.88s</tspan><tspan x="1053.5" dy="3.5">0.03%</tspan><tspan x="1053.5" dy="3.5">(2)</tspan></text></g>
<g id="n_r30"><rect class="nv" x="1073" y="250" width="32" height="16"/><text class="t" x="1089" y="254.2">mkldnn_conv<tspan x="1089" dy="3.5">0.28s</tspan><tspan x="1089" dy="3.5">0.01%</tspan><tspan x="1089" dy="3.5">(2)</tspan></text></g>
<g id="n_r31"><rect class="nv" x="1108" y="250" width="25" height="16"/><text class="t" x="1120.5" y="254.2">dnnl_stream<tspan x="1120.5" dy="3.5">0.55s</tspan><tspan x="1120.5" dy="3.5">0.02%</tspan><tspan x="1120.5" dy="3.5">(1)</tspan></text></g>
<g id="n_r32"><rect class="tb" x="1136" y="250" width="34" height="16"/><text class="t" x="1153" y="254.2">primitive_exec<tspan x="1153" dy="3.5">2.5s</tspan><tspan x="1153" dy="3.5">0.07%</tspan><tspan x="1153" dy="3.5">(11)</tspan></text></g>
<g id="n_r33"><rect class="nv" x="1173" y="250" width="30" height="16"/><text class="t" x="1188" y="254.2">jit_avx512<tspan x="1188" dy="3.5">1.11s</tspan><tspan x="1188" dy="3.5">0.03%</tspan><tspan x="1188" dy="3.5">(4)</tspan></text></g>
<g id="n_r34"><rect class="nv" x="1207" y="250" width="38" height="16"/><text class="t" x="1226" y="254.2">at::relu_<tspan x="1226" dy="3.5">0.90s</tspan><tspan x="1226" dy="3.5">0.03%</tspan><tspan x="1226" dy="3.5">(2)</tspan></text></g>
<g id="n_r35"><rect class="nv" x="1248" y="250" width="32" height="16"/><text class="t" x="1264" y="254.2">clamp_min<tspan x="1264" dy="3.5">0.47s</tspan><tspan x="1264" dy="3.5">0.01%</tspan><tspan x="1264" dy="3.5">(2)</tspan></text></g>
<g id="n_r36"><rect class="nv" x="1283" y="250" width="31" height="16"/><text class="t" x="1298.5" y="254.2">max_pool2d<tspan x="1298.5" dy="3.5">0.78s</tspan><tspan x="1298.5" dy="3.5">0.02%</tspan><tspan x="1298.5" dy="3.5">(2)</tspan></text></g>
<g id="n_r37"><rect class="rd" x="1318" y="250" width="27" height="16"/><text class="t" x="1331.5" y="254.2">gomp_barrier<tspan x="1331.5" dy="3.5">112.5s</tspan><tspan x="1331.5" dy="3.5">3.26%</tspan><tspan x="1331.5" dy="3.5">(5)</tspan></text></g>
<g id="n_r38"><rect class="nv" x="1348" y="250" width="33" height="16"/><text class="t" x="1364.5" y="254.2">batch_norm<tspan x="1364.5" dy="3.5">0.22s</tspan><tspan x="1364.5" dy="3.5">0.01%</tspan><tspan x="1364.5" dy="3.5">(2)</tspan></text></g>
<g id="n_r39"><rect class="nv" x="1384" y="250" width="32" height="16"/><text class="t" x="1400" y="254.2">at::linear<tspan x="1400" dy="3.5">0.88s</tspan><tspan x="1400" dy="3.5">0.03%</tspan><tspan x="1400" dy="3.5">(11)</tspan></text></g>
<g id="n_r40"><rect class="nv" x="1419" y="250" width="34" height="16"/><text class="t" x="1436" y="254.2">at::softmax<tspan x="1436" dy="3.5">1.08s</tspan><tspan x="1436" dy="3.5">0.03%</tspan><tspan x="1436" dy="3.5">(4)</tspan></text></g>
<g id="n_r41"><rect class="nv" x="1456" y="250" width="32" height="16"/><text class="t" x="1472" y="254.2">at::cat<tspan x="1472" dy="3.5">1.08s</tspan><tspan x="1472" dy="3.5">0.03%</tspan><tspan x="1472" dy="3.5">(3)</tspan></text></g>
<g id="n_r42"><rect class="nv" x="1490" y="250" width="32" height="16"/><text class="t" x="1506" y="254.2">at::view<tspan x="1506" dy="3.5">0.88s</tspan><tspan x="1506" dy="3.5">0.03%</tspan><tspan x="1506" dy="3.5">(11)</tspan></text></g>
<g id="n_r43"><rect class="nv" x="1525" y="250" width="26" height="16"/><text class="t" x="1538" y="254.2">reshape<tspan x="1538" dy="3.5">0.51s</tspan><tspan x="1538" dy="3.5">0.01%</tspan><tspan x="1538" dy="3.5">(4)</tspan></text></g>
<g id="n_r44"><rect class="nv" x="1554" y="250" width="31" height="16"/><text class="t" x="1569.5" y="254.2">contiguous<tspan x="1569.5" dy="3.5">0.22s</tspan><tspan x="1569.5" dy="3.5">0.01%</tspan><tspan x="1569.5" dy="3.5">(3)</tspan></text></g>
<g id="n_r45"><rect class="tb" x="1588" y="250" width="31" height="16"/><text class="t" x="1603.5" y="254.2">native::sum<tspan x="1603.5" dy="3.5">2.17s</tspan><tspan x="1603.5" dy="3.5">0.06%</tspan><tspan x="1603.5" dy="3.5">(11)</tspan></text></g>
<g id="n_r46"><rect class="nv" x="1622" y="250" width="25" height="16"/><text class="t" x="1634.5" y="254.2">mean<tspan x="1634.5" dy="3.5">0.96s</tspan><tspan x="1634.5" dy="3.5">0.03%</tspan><tspan x="1634.5" dy="3.5">(3)</tspan></text></g>
<g id="n_r47"><rect class="nv" x="1649" y="250" width="35" height="16"/><text class="t" x="1666.5" y="254.2">at::add_out<tspan x="1666.5" dy="3.5">0.36s</tspan><tspan x="1666.5" dy="3.5">0.01%</tspan><tspan x="1666.5" dy="3.5">(4)</tspan></text></g>
<g id="n_r48"><rect class="nv" x="1687" y="250" width="32" height="16"/><text class="t" x="1703" y="254.2">at::mul_out<tspan x="1703" dy="3.5">0.12s</tspan><tspan x="1703" dy="3.5">0.01%</tspan><tspan x="1703" dy="3.5">(2)</tspan></text></g>
<g id="n_r49"><rect class="nv" x="1728" y="250" width="31" height="16"/><text class="t" x="1743.5" y="254.2">at::sigmoid<tspan x="1743.5" dy="3.5">1.16s</tspan><tspan x="1743.5" dy="3.5">0.03%</tspan><tspan x="1743.5" dy="3.5">(3)</tspan></text></g>

<g id="n_v"><rect class="tl" x="716" y="278" width="56" height="16"/><text class="t" x="744" y="282.2">c10::impl::call_functor<tspan x="744" dy="3.5">13.62s</tspan><tspan x="744" dy="3.5">0.40%</tspan><tspan x="744" dy="3.5">(107)</tspan></text></g>
<g id="n_w"><rect class="nv" x="865" y="278" width="50" height="16"/><text class="t" x="890" y="282.2">mkl_blas_xsgemm<tspan x="890" dy="3.5">0.03s</tspan><tspan x="890" dy="3.5">0.01%</tspan><tspan x="890" dy="3.5">(4)</tspan></text></g>
<g id="n_x"><rect class="nv" x="861" y="306" width="58" height="16"/><text class="t" x="890" y="310.2">mkl_blas_avx512_sgemm<tspan x="890" dy="3.5">0.03s</tspan><tspan x="890" dy="3.5">0.01%</tspan><tspan x="890" dy="3.5">(4)</tspan></text></g>
<g id="n_y"><rect class="nv" x="874" y="334" width="32" height="16"/><text class="t" x="890" y="338.2">kernel_sgemm<tspan x="890" dy="3.5">0.03s</tspan><tspan x="890" dy="3.5">0.01%</tspan><tspan x="890" dy="3.5">(4)</tspan></text></g>
<g id="n_z"><rect class="yg" x="1319" y="278" width="24" height="16"/><text class="t" x="1331" y="282.2">gomp_loop<tspan x="1331" dy="3.5">47.37s</tspan><tspan x="1331" dy="3.5">1.37%</tspan><tspan x="1331" dy="3.5">(7)</tspan></text></g>
<g id="n_aa"><rect class="nv" x="1040" y="278" width="38" height="16"/><text class="t" x="1059" y="282.2">conv_forward<tspan x="1059" dy="3.5">1.05s</tspan><tspan x="1059" dy="3.5">0.03%</tspan><tspan x="1059" dy="3.5">(2)</tspan></text></g>
<g id="n_ab"><rect class="nv" x="1006" y="306" width="63" height="16"/><text class="t" x="1037.5" y="310.2">dnnl::impl::cpu::conv_exec<tspan x="1037.5" dy="3.5">1.53s</tspan><tspan x="1037.5" dy="3.5">0.04%</tspan><tspan x="1037.5" dy="3.5">(2)</tspan></text></g>
<g id="n_ac"><rect class="tl" x="1264" y="306" width="30" height="16"/><text class="t" x="1279" y="310.2">omp_fn.0<tspan x="1279" dy="3.5">21.76s</tspan><tspan x="1279" dy="3.5">0.63%</tspan><tspan x="1279" dy="3.5">(7)</tspan></text></g>
<g id="n_ad"><rect class="gr" x="1318" y="306" width="27" height="16"/><text class="t" x="1331.5" y="310.2">omp_fn.1<tspan x="1331.5" dy="3.5">47.31s</tspan><tspan x="1331.5" dy="3.5">1.37%</tspan><tspan x="1331.5" dy="3.5">(7)</tspan></text></g>
<g id="n_ae"><rect class="nv" x="1348" y="306" width="31" height="16"/><text class="t" x="1363.5" y="310.2">omp_fn.2<tspan x="1363.5" dy="3.5">0.08s</tspan><tspan x="1363.5" dy="3.5">0.01%</tspan><tspan x="1363.5" dy="3.5">(1)</tspan></text></g>
<g id="n_af"><rect class="nv" x="999" y="334" width="39" height="16"/><text class="t" x="1018.5" y="338.2">jit_conv_fwd<tspan x="1018.5" dy="3.5">0.65s</tspan><tspan x="1018.5" dy="3.5">0.02%</tspan><tspan x="1018.5" dy="3.5">(2)</tspan></text></g>
<g id="n_ag"><rect class="nv" x="1042" y="334" width="37" height="16"/><text class="t" x="1060.5" y="338.2">reorder_exec<tspan x="1060.5" dy="3.5">0.88s</tspan><tspan x="1060.5" dy="3.5">0.03%</tspan><tspan x="1060.5" dy="3.5">(2)</tspan></text></g>
<g id="n_ah"><rect class="tl" x="1208" y="334" width="23" height="16"/><text class="t" x="1219.5" y="338.2">loop_2d<tspan x="1219.5" dy="3.5">21.76s</tspan><tspan x="1219.5" dy="3.5">0.63%</tspan><tspan x="1219.5" dy="3.5">(7)</tspan></text></g>
<g id="n_ai"><rect class="nv" x="1275" y="334" width="41" height="16"/><text class="t" x="1295.5" y="338.2">reduce_lambda<tspan x="1295.5" dy="3.5">0.88s</tspan><tspan x="1295.5" dy="3.5">0.03%</tspan><tspan x="1295.5" dy="3.5">(2)</tspan></text></g>
<g id="n_aj"><rect class="nv" x="1331" y="334" width="26" height="16"/><text class="t" x="1344" y="338.2">copy_loop<tspan x="1344" dy="3.5">0.66s</tspan><tspan x="1344" dy="3.5">0.02%</tspan><tspan x="1344" dy="3.5">(2)</tspan></text></g>
<g id="n_ak"><rect class="g2" x="1396" y="334" width="36" height="16"/><text class="t" x="1414" y="338.2">binary_loop<tspan x="1414" dy="3.5">45.08s</tspan><tspan x="1414" dy="3.5">1.31%</tspan><tspan x="1414" dy="3.5">(7)</tspan></text></g>
<g id="n_al"><rect class="nv" x="999" y="371" width="32" height="15"/><text class="t" x="1015" y="375">brgemm_exec<tspan x="1015" dy="3.4">0.45s</tspan><tspan x="1015" dy="3.4">0.01%</tspan><tspan x="1015" dy="3.4">(2)</tspan></text></g>
<g id="n_am"><rect class="nv" x="1044" y="371" width="33" height="15"/><text class="t" x="1060.5" y="375">simple_reorder<tspan x="1060.5" dy="3.4">0.88s</tspan><tspan x="1060.5" dy="3.4">0.03%</tspan><tspan x="1060.5" dy="3.4">(2)</tspan></text></g>
<g id="n_an"><rect class="tl" x="1173" y="371" width="30" height="15"/><text class="t" x="1188" y="375">vec_loop<tspan x="1188" dy="3.4">21.76s</tspan><tspan x="1188" dy="3.4">0.63%</tspan><tspan x="1188" dy="3.4">(7)</tspan></text></g>
<g id="n_ao"><rect class="nv" x="1265" y="371" width="42" height="15"/><text class="t" x="1286" y="375">reduce_chunk<tspan x="1286" dy="3.4">0.88s</tspan><tspan x="1286" dy="3.4">0.03%</tspan><tspan x="1286" dy="3.4">(2)</tspan></text></g>
<g id="n_ap"><rect class="nv" x="1331" y="371" width="26" height="15"/><text class="t" x="1344" y="375">copy_impl<tspan x="1344" dy="3.4">0.86s</tspan><tspan x="1344" dy="3.4">0.02%</tspan><tspan x="1344" dy="3.4">(2)</tspan></text></g>
<g id="n_aq"><rect class="tg" x="1396" y="371" width="36" height="15"/><text class="t" x="1414" y="375">vectorized<tspan x="1414" dy="3.4">42.03s</tspan><tspan x="1414" dy="3.4">1.22%</tspan><tspan x="1414" dy="3.4">(7)</tspan></text></g>
<g id="n_ar"><rect class="nv" x="1497" y="371" width="32" height="15"/><text class="t" x="1513" y="375">basic_loop<tspan x="1513" dy="3.4">1.88s</tspan><tspan x="1513" dy="3.4">0.05%</tspan><tspan x="1513" dy="3.4">(2)</tspan></text></g>
<g id="n_as"><rect class="tb" x="1577" y="371" width="33" height="15"/><text class="t" x="1593.5" y="375">unroll_loop<tspan x="1593.5" dy="3.4">12.37s</tspan><tspan x="1593.5" dy="3.4">0.36%</tspan><tspan x="1593.5" dy="3.4">(7)</tspan></text></g>

<g id="n_s01"><rect class="nv" x="977" y="399" width="35" height="15"/><text class="t" x="994.5" y="403">jit_kernel<tspan x="994.5" dy="3.4">0.88s</tspan><tspan x="994.5" dy="3.4">0.03%</tspan><tspan x="994.5" dy="3.4">(2)</tspan></text></g>
<g id="n_s02"><rect class="nv" x="1030" y="399" width="60" height="15"/><text class="t" x="1060" y="403">dnnl::impl::parallel_nd<tspan x="1060" dy="3.4">0.17s</tspan><tspan x="1060" dy="3.4">0.01%</tspan><tspan x="1060" dy="3.4">(2)</tspan></text></g>
<g id="n_s03"><rect class="nv" x="1093" y="399" width="24" height="15"/><text class="t" x="1105" y="403">for_nd<tspan x="1105" dy="3.4">0.28s</tspan><tspan x="1105" dy="3.4">0.01%</tspan><tspan x="1105" dy="3.4">(2)</tspan></text></g>
<g id="n_s04"><rect class="nv" x="1120" y="399" width="49" height="15"/><text class="t" x="1144.5" y="403">c10::function_ref<tspan x="1144.5" dy="3.4">0.76s</tspan><tspan x="1144.5" dy="3.4">0.02%</tspan><tspan x="1144.5" dy="3.4">(2)</tspan></text></g>
<g id="n_s05"><rect class="tl" x="1173" y="399" width="30" height="15"/><text class="t" x="1188" y="403">Vectorized<tspan x="1188" dy="3.4">21.36s</tspan><tspan x="1188" dy="3.4">0.62%</tspan><tspan x="1188" dy="3.4">(7)</tspan></text></g>
<g id="n_s06"><rect class="nv" x="1206" y="399" width="27" height="15"/><text class="t" x="1219.5" y="403">vec::add<tspan x="1219.5" dy="3.4">0.75s</tspan><tspan x="1219.5" dy="3.4">0.02%</tspan><tspan x="1219.5" dy="3.4">(2)</tspan></text></g>
<g id="n_s07"><rect class="nv" x="1237" y="399" width="25" height="15"/><text class="t" x="1249.5" y="403">vec::mul<tspan x="1249.5" dy="3.4">0.36s</tspan><tspan x="1249.5" dy="3.4">0.01%</tspan><tspan x="1249.5" dy="3.4">(2)</tspan></text></g>
<g id="n_s08"><rect class="nv" x="1266" y="399" width="45" height="15"/><text class="t" x="1288.5" y="403">reduce_partial<tspan x="1288.5" dy="3.4">0.77s</tspan><tspan x="1288.5" dy="3.4">0.02%</tspan><tspan x="1288.5" dy="3.4">(2)</tspan></text></g>
<g id="n_s09"><rect class="nv" x="1314" y="399" width="25" height="15"/><text class="t" x="1326.5" y="403">combine<tspan x="1326.5" dy="3.4">0.56s</tspan><tspan x="1326.5" dy="3.4">0.02%</tspan><tspan x="1326.5" dy="3.4">(2)</tspan></text></g>
<g id="n_s10"><rect class="nv" x="1342" y="399" width="25" height="15"/><text class="t" x="1354.5" y="403">cast_op<tspan x="1354.5" dy="3.4">1.08s</tspan><tspan x="1354.5" dy="3.4">0.03%</tspan><tspan x="1354.5" dy="3.4">(2)</tspan></text></g>
<g id="n_s11"><rect class="tg" x="1370" y="399" width="45" height="15"/><text class="t" x="1392.5" y="403">vec::loadu<tspan x="1392.5" dy="3.4">11.18s</tspan><tspan x="1392.5" dy="3.4">0.32%</tspan><tspan x="1392.5" dy="3.4">(7)</tspan></text></g>
<g id="n_s12"><rect class="nv" x="1418" y="399" width="53" height="15"/><text class="t" x="1444.5" y="403">vec::store<tspan x="1444.5" dy="3.4">1.56s</tspan><tspan x="1444.5" dy="3.4">0.05%</tspan><tspan x="1444.5" dy="3.4">(2)</tspan></text></g>
<g id="n_s13"><rect class="tg" x="1473" y="399" width="46" height="15"/><text class="t" x="1496" y="403">binary_op_lambda<tspan x="1496" dy="3.4">11.11s</tspan><tspan x="1496" dy="3.4">0.32%</tspan><tspan x="1496" dy="3.4">(7)</tspan></text></g>
<g id="n_s14"><rect class="tg" x="1522" y="399" width="45" height="15"/><text class="t" x="1544.5" y="403">add_lambda<tspan x="1544.5" dy="3.4">10.37s</tspan><tspan x="1544.5" dy="3.4">0.30%</tspan><tspan x="1544.5" dy="3.4">(7)</tspan></text></g>
<g id="n_s15"><rect class="nv" x="1569" y="399" width="47" height="15"/><text class="t" x="1592.5" y="403">dereference<tspan x="1592.5" dy="3.4">1.84s</tspan><tspan x="1592.5" dy="3.4">0.05%</tspan><tspan x="1592.5" dy="3.4">(2)</tspan></text></g>
<g id="n_s16"><rect class="tb" x="1623" y="399" width="32" height="15"/><text class="t" x="1639" y="403">sum_inner<tspan x="1639" dy="3.4">12.37s</tspan><tspan x="1639" dy="3.4">0.36%</tspan><tspan x="1639" dy="3.4">(7)</tspan></text></g>
<g id="n_t01"><rect class="tg" x="1775" y="278" width="58" height="16"/><text class="t" x="1804" y="282.2">c10::detail::invoke_kernel<tspan x="1804" dy="3.5">10.43s</tspan><tspan x="1804" dy="3.5">0.30%</tspan><tspan x="1804" dy="3.5">(7)</tspan></text></g>
<g id="n_t02"><rect class="nv" x="1704" y="278" width="29" height="16"/><text class="t" x="1718.5" y="282.2">__kmp_wait<tspan x="1718.5" dy="3.5">0.44s</tspan><tspan x="1718.5" dy="3.5">0.01%</tspan><tspan x="1718.5" dy="3.5">(2)</tspan></text></g>
<g id="n_t03"><rect class="nv" x="1736" y="278" width="30" height="16"/><text class="t" x="1751" y="282.2">__kmp_yield<tspan x="1751" dy="3.5">0.11s</tspan><tspan x="1751" dy="3.5">0.01%</tspan><tspan x="1751" dy="3.5">(2)</tspan></text></g>
<g id="n_t04"><rect class="nv" x="1704" y="306" width="29" height="16"/><text class="t" x="1718.5" y="310.2">sched_yield<tspan x="1718.5" dy="3.5">0.86s</tspan><tspan x="1718.5" dy="3.5">0.02%</tspan><tspan x="1718.5" dy="3.5">(2)</tspan></text></g>
<g id="n_t05"><rect class="nv" x="1736" y="306" width="26" height="16"/><text class="t" x="1749" y="310.2">syscall<tspan x="1749" dy="3.5">0.36s</tspan><tspan x="1749" dy="3.5">0.01%</tspan><tspan x="1749" dy="3.5">(2)</tspan></text></g>
<g id="n_t06"><rect class="nv" x="1765" y="306" width="41" height="16"/><text class="t" x="1785.5" y="310.2">__kmp_futex<tspan x="1785.5" dy="3.5">0.18s</tspan><tspan x="1785.5" dy="3.5">0.01%</tspan><tspan x="1785.5" dy="3.5">(2)</tspan></text></g>
<g id="n_t07"><rect class="nv" x="1703" y="334" width="32" height="16"/><text class="t" x="1719" y="338.2">entry_SYSCALL<tspan x="1719" dy="3.5">0.88s</tspan><tspan x="1719" dy="3.5">0.03%</tspan><tspan x="1719" dy="3.5">(2)</tspan></text></g>
<g id="n_t08"><rect class="nv" x="1783" y="334" width="50" height="16"/><text class="t" x="1808" y="338.2">at::native::fill_kernel<tspan x="1808" dy="3.5">0.88s</tspan><tspan x="1808" dy="3.5">0.03%</tspan><tspan x="1808" dy="3.5">(2)</tspan></text></g>
<g id="n_t09"><rect class="nv" x="1731" y="353" width="30" height="15"/><text class="t" x="1746" y="357">do_futex<tspan x="1746" dy="3.4">0.88s</tspan><tspan x="1746" dy="3.4">0.03%</tspan><tspan x="1746" dy="3.4">(2)</tspan></text></g>
<g id="n_t10"><rect class="nv" x="1703" y="371" width="32" height="15"/><text class="t" x="1719" y="375">do_syscall_64<tspan x="1719" dy="3.4">0.88s</tspan><tspan x="1719" dy="3.4">0.03%</tspan><tspan x="1719" dy="3.4">(2)</tspan></text></g>
<g id="n_t11"><rect class="nv" x="1704" y="399" width="30" height="15"/><text class="t" x="1719" y="403">__x64_sys<tspan x="1719" dy="3.4">0.88s</tspan><tspan x="1719" dy="3.4">0.03%</tspan><tspan x="1719" dy="3.4">(2)</tspan></text></g>

<g id="n_u01"><rect class="nv" x="975" y="426" width="39" height="16"/><text class="t" x="994.5" y="430.2">brgemm_kernel<tspan x="994.5" dy="3.5">0.88s</tspan><tspan x="994.5" dy="3.5">0.03%</tspan><tspan x="994.5" dy="3.5">(2)</tspan></text></g>
<g id="n_u02"><rect class="nv" x="1043" y="426" width="40" height="16"/><text class="t" x="1063" y="430.2">reorder_kernel<tspan x="1063" dy="3.5">0.17s</tspan><tspan x="1063" dy="3.5">0.01%</tspan><tspan x="1063" dy="3.5">(2)</tspan></text></g>
<g id="n_u03"><rect class="nv" x="1087" y="426" width="30" height="16"/><text class="t" x="1102" y="430.2">for_nd_ext<tspan x="1102" dy="3.5">0.28s</tspan><tspan x="1102" dy="3.5">0.01%</tspan><tspan x="1102" dy="3.5">(2)</tspan></text></g>
<g id="n_u04"><rect class="nv" x="1121" y="426" width="38" height="16"/><text class="t" x="1140" y="430.2">callback_fn<tspan x="1140" dy="3.5">0.46s</tspan><tspan x="1140" dy="3.5">0.01%</tspan><tspan x="1140" dy="3.5">(2)</tspan></text></g>
<g id="n_u05"><rect class="tl" x="1162" y="426" width="73" height="16"/><text class="t" x="1198.5" y="430.2">at::vec::AVX512::Vectorized::add<tspan x="1198.5" dy="3.5">17.36s</tspan><tspan x="1198.5" dy="3.5">0.50%</tspan><tspan x="1198.5" dy="3.5">(7)</tspan></text></g>
<g id="n_u06"><rect class="nv" x="1237" y="426" width="33" height="16"/><text class="t" x="1253.5" y="430.2">_mm512_mul<tspan x="1253.5" dy="3.5">0.12s</tspan><tspan x="1253.5" dy="3.5">0.01%</tspan><tspan x="1253.5" dy="3.5">(2)</tspan></text></g>
<g id="n_u07"><rect class="nv" x="1272" y="426" width="46" height="16"/><text class="t" x="1295" y="430.2">reduce_inner_loop<tspan x="1295" dy="3.5">0.77s</tspan><tspan x="1295" dy="3.5">0.02%</tspan><tspan x="1295" dy="3.5">(2)</tspan></text></g>
<g id="n_u08"><rect class="nv" x="1321" y="426" width="51" height="16"/><text class="t" x="1346.5" y="430.2">at::native::combine<tspan x="1346.5" dy="3.5">1.08s</tspan><tspan x="1346.5" dy="3.5">0.03%</tspan><tspan x="1346.5" dy="3.5">(2)</tspan></text></g>
<g id="n_u09"><rect class="nv" x="1375" y="426" width="35" height="16"/><text class="t" x="1392.5" y="430.2">_mm512_loadu<tspan x="1392.5" dy="3.5">1.22s</tspan><tspan x="1392.5" dy="3.5">0.04%</tspan><tspan x="1392.5" dy="3.5">(2)</tspan></text></g>
<g id="n_u10"><rect class="nv" x="1413" y="426" width="35" height="16"/><text class="t" x="1430.5" y="430.2">_mm512_store<tspan x="1430.5" dy="3.5">0.63s</tspan><tspan x="1430.5" dy="3.5">0.02%</tspan><tspan x="1430.5" dy="3.5">(2)</tspan></text></g>
<g id="n_u11"><rect class="nv" x="1452" y="426" width="33" height="16"/><text class="t" x="1468.5" y="430.2">memmove<tspan x="1468.5" dy="3.5">0.77s</tspan><tspan x="1468.5" dy="3.5">0.02%</tspan><tspan x="1468.5" dy="3.5">(2)</tspan></text></g>
<g id="n_u12"><rect class="nv" x="1488" y="426" width="37" height="16"/><text class="t" x="1506.5" y="430.2">c10::Half<tspan x="1506.5" dy="3.5">1.88s</tspan><tspan x="1506.5" dy="3.5">0.05%</tspan><tspan x="1506.5" dy="3.5">(2)</tspan></text></g>
<g id="n_u13"><rect class="nv" x="1528" y="426" width="41" height="16"/><text class="t" x="1548.5" y="430.2">fp16_ieee_to<tspan x="1548.5" dy="3.5">0.76s</tspan><tspan x="1548.5" dy="3.5">0.02%</tspan><tspan x="1548.5" dy="3.5">(2)</tspan></text></g>
<g id="n_u14"><rect class="nv" x="1572" y="426" width="24" height="16"/><text class="t" x="1584" y="430.2">deref<tspan x="1584" dy="3.5">1.88s</tspan><tspan x="1584" dy="3.5">0.05%</tspan><tspan x="1584" dy="3.5">(2)</tspan></text></g>
<g id="n_u15"><rect class="tb" x="1599" y="426" width="88" height="16"/><text class="t" x="1643" y="430.2">at::native::(anonymous)::cascade_sum<tspan x="1643" dy="3.5">12.37s</tspan><tspan x="1643" dy="3.5">0.36%</tspan><tspan x="1643" dy="3.5">(7)</tspan></text></g>
<g id="n_u16"><rect class="nv" x="1703" y="426" width="32" height="16"/><text class="t" x="1719" y="430.2">futex_wake<tspan x="1719" dy="3.5">0.88s</tspan><tspan x="1719" dy="3.5">0.03%</tspan><tspan x="1719" dy="3.5">(2)</tspan></text></g>
<g id="n_u17"><rect class="nb" x="1816" y="426" width="44" height="16"/><text class="t" x="1838" y="430.2">at::native::fill<tspan x="1838" dy="3.5">1.16s</tspan><tspan x="1838" dy="3.5">0.03%</tspan><tspan x="1838" dy="3.5">(3)</tspan></text></g>

<g id="n_v01"><rect class="nv" x="904" y="454" width="61" height="16"/><text class="t" x="934.5" y="458.2">jit_brgemm_kernel_base<tspan x="934.5" dy="3.5">0.88s</tspan><tspan x="934.5" dy="3.5">0.03%</tspan><tspan x="934.5" dy="3.5">(2)</tspan></text></g>
<g id="n_v02"><rect class="nv" x="968" y="454" width="55" height="16"/><text class="t" x="995.5" y="458.2">brgemm_inner_product<tspan x="995.5" dy="3.5">0.21s</tspan><tspan x="995.5" dy="3.5">0.01%</tspan><tspan x="995.5" dy="3.5">(2)</tspan></text></g>
<g id="n_v03"><rect class="nb" x="1028" y="454" width="69" height="16"/><text class="t" x="1062.5" y="458.2">dnnl::impl::cpu::simple_reorder<tspan x="1062.5" dy="3.5">0.17s</tspan><tspan x="1062.5" dy="3.5">0.01%</tspan><tspan x="1062.5" dy="3.5">(2)</tspan></text></g>
<g id="n_v04"><rect class="nv" x="1099" y="454" width="34" height="16"/><text class="t" x="1116" y="458.2">balance211<tspan x="1116" dy="3.5">0.28s</tspan><tspan x="1116" dy="3.5">0.01%</tspan><tspan x="1116" dy="3.5">(2)</tspan></text></g>
<g id="n_v05"><rect class="nb" x="1224" y="454" width="59" height="16"/><text class="t" x="1253.5" y="458.2">_mm512_mul_ps_inline<tspan x="1253.5" dy="3.5">0.05s</tspan><tspan x="1253.5" dy="3.5">0.01%</tspan><tspan x="1253.5" dy="3.5">(2)</tspan></text></g>
<g id="n_v06"><rect class="nv" x="1350" y="454" width="48" height="16"/><text class="t" x="1374" y="458.2">vec::load_inline<tspan x="1374" dy="3.5">1.16s</tspan><tspan x="1374" dy="3.5">0.03%</tspan><tspan x="1374" dy="3.5">(2)</tspan></text></g>
<g id="n_v07"><rect class="nv" x="1401" y="454" width="35" height="16"/><text class="t" x="1418.5" y="458.2">store_impl<tspan x="1418.5" dy="3.5">0.21s</tspan><tspan x="1418.5" dy="3.5">0.01%</tspan><tspan x="1418.5" dy="3.5">(2)</tspan></text></g>
<g id="n_v08"><rect class="nv" x="1439" y="454" width="84" height="16"/><text class="t" x="1481" y="458.2">__memmove_avx512_unaligned_erms<tspan x="1481" dy="3.5">1.88s</tspan><tspan x="1481" dy="3.5">0.05%</tspan><tspan x="1481" dy="3.5">(2)</tspan></text></g>
<g id="n_v09"><rect class="nv" x="1526" y="454" width="48" height="16"/><text class="t" x="1550" y="458.2">fp16_to_fp32<tspan x="1550" dy="3.5">1.86s</tspan><tspan x="1550" dy="3.5">0.05%</tspan><tspan x="1550" dy="3.5">(2)</tspan></text></g>
<g id="n_v10"><rect class="nv" x="1603" y="454" width="47" height="16"/><text class="t" x="1626.5" y="458.2">multi_row_sum<tspan x="1626.5" dy="3.5">4.36s</tspan><tspan x="1626.5" dy="3.5">0.13%</tspan><tspan x="1626.5" dy="3.5">(7)</tspan></text></g>
<g id="n_v11"><rect class="nv" x="1653" y="454" width="31" height="16"/><text class="t" x="1668.5" y="458.2">row_sum<tspan x="1668.5" dy="3.5">1.36s</tspan><tspan x="1668.5" dy="3.5">0.04%</tspan><tspan x="1668.5" dy="3.5">(2)</tspan></text></g>
<g id="n_v12"><rect class="nv" x="1701" y="454" width="37" height="16"/><text class="t" x="1719.5" y="458.2">futex_wake_op<tspan x="1719.5" dy="3.5">0.88s</tspan><tspan x="1719.5" dy="3.5">0.03%</tspan><tspan x="1719.5" dy="3.5">(2)</tspan></text></g>
<g id="n_v13"><rect class="nv" x="1741" y="454" width="59" height="16"/><text class="t" x="1770.5" y="458.2">at::native::cpu_serial<tspan x="1770.5" dy="3.5">0.12s</tspan><tspan x="1770.5" dy="3.5">0.01%</tspan><tspan x="1770.5" dy="3.5">(2)</tspan></text></g>
<g id="n_v14"><rect class="nv" x="1808" y="454" width="59" height="16"/><text class="t" x="1837.5" y="458.2">at::native::fill_stub<tspan x="1837.5" dy="3.5">1.16s</tspan><tspan x="1837.5" dy="3.5">0.03%</tspan><tspan x="1837.5" dy="3.5">(3)</tspan></text></g>
<g id="n_v15"><rect class="nv" x="1870" y="454" width="46" height="16"/><text class="t" x="1893" y="458.2">at::native::zero_<tspan x="1893" dy="3.5">0.22s</tspan><tspan x="1893" dy="3.5">0.01%</tspan><tspan x="1893" dy="3.5">(2)</tspan></text></g>
<g id="n_w0"><rect class="nv" x="1743" y="473" width="48" height="15"/><text class="t" x="1767" y="477">serial_kernel<tspan x="1767" dy="3.4">0.36s</tspan><tspan x="1767" dy="3.4">0.01%</tspan><tspan x="1767" dy="3.4">(2)</tspan></text></g>

<g id="n_x1"><rect class="nv" x="969" y="491" width="52" height="16"/><text class="t" x="995" y="495.2">brgemm_kernel_execute<tspan x="995" dy="3.5">0.21s</tspan><tspan x="995" dy="3.5">0.01%</tspan><tspan x="995" dy="3.5">(2)</tspan></text></g>
<g id="n_x2"><rect class="nv" x="1091" y="491" width="50" height="16"/><text class="t" x="1116" y="495.2">dnnl::impl::for_nd<tspan x="1116" dy="3.5">0.17s</tspan><tspan x="1116" dy="3.5">0.01%</tspan><tspan x="1116" dy="3.5">(2)</tspan></text></g>
<g id="n_x3"><rect class="nv" x="1431" y="491" width="34" height="16"/><text class="t" x="1448" y="495.2">memcpy_erms<tspan x="1448" dy="3.5">0.88s</tspan><tspan x="1448" dy="3.5">0.03%</tspan><tspan x="1448" dy="3.5">(2)</tspan></text></g>
<g id="n_x4"><rect class="nv" x="1533" y="491" width="34" height="16"/><text class="t" x="1550" y="495.2">cvtph_ps<tspan x="1550" dy="3.5">1.17s</tspan><tspan x="1550" dy="3.5">0.03%</tspan><tspan x="1550" dy="3.5">(2)</tspan></text></g>
<g id="n_x5"><rect class="nv" x="1622" y="491" width="47" height="16"/><text class="t" x="1645.5" y="495.2">vec::reduce_add<tspan x="1645.5" dy="3.5">1.86s</tspan><tspan x="1645.5" dy="3.5">0.05%</tspan><tspan x="1645.5" dy="3.5">(2)</tspan></text></g>
<g id="n_x6"><rect class="nv" x="1672" y="491" width="45" height="16"/><text class="t" x="1694.5" y="495.2">vec::load_reduce<tspan x="1694.5" dy="3.5">0.87s</tspan><tspan x="1694.5" dy="3.5">0.03%</tspan><tspan x="1694.5" dy="3.5">(2)</tspan></text></g>
<g id="n_x7"><rect class="nv" x="1720" y="491" width="28" height="16"/><text class="t" x="1734" y="495.2">wake_q<tspan x="1734" dy="3.5">1.36s</tspan><tspan x="1734" dy="3.5">0.04%</tspan><tspan x="1734" dy="3.5">(2)</tspan></text></g>
<g id="n_x8"><rect class="nv" x="1812" y="491" width="52" height="16"/><text class="t" x="1838" y="495.2">at::native::fill_loop<tspan x="1838" dy="3.5">1.17s</tspan><tspan x="1838" dy="3.5">0.03%</tspan><tspan x="1838" dy="3.5">(2)</tspan></text></g>
<g id="n_x9"><rect class="nv" x="1868" y="491" width="50" height="16"/><text class="t" x="1893" y="495.2">at::native::memset<tspan x="1893" dy="3.5">0.22s</tspan><tspan x="1893" dy="3.5">0.01%</tspan><tspan x="1893" dy="3.5">(2)</tspan></text></g>
<g id="n_y1"><rect class="nv" x="1092" y="519" width="48" height="15"/><text class="t" x="1116" y="523">reorder_lambda<tspan x="1116" dy="3.4">0.17s</tspan><tspan x="1116" dy="3.4">0.01%</tspan><tspan x="1116" dy="3.4">(2)</tspan></text></g>
<g id="n_y2"><rect class="nv" x="1412" y="519" width="72" height="15"/><text class="t" x="1448" y="523">__memmove_avx_unaligned<tspan x="1448" dy="3.4">0.88s</tspan><tspan x="1448" dy="3.4">0.03%</tspan><tspan x="1448" dy="3.4">(2)</tspan></text></g>
<g id="n_y3"><rect class="nv" x="1622" y="519" width="60" height="15"/><text class="t" x="1652" y="523">vec::horizontal_sum<tspan x="1652" dy="3.4">1.06s</tspan><tspan x="1652" dy="3.4">0.03%</tspan><tspan x="1652" dy="3.4">(2)</tspan></text></g>
<g id="n_y4"><rect class="nv" x="1712" y="519" width="45" height="15"/><text class="t" x="1734.5" y="523">try_to_wake_up<tspan x="1734.5" dy="3.4">1.88s</tspan><tspan x="1734.5" dy="3.4">0.05%</tspan><tspan x="1734.5" dy="3.4">(2)</tspan></text></g>
<g id="n_z1"><rect class="nv" x="1080" y="547" width="72" height="15"/><text class="t" x="1116" y="551">dnnl::impl::cpu::reorder_impl<tspan x="1116" dy="3.4">0.16s</tspan><tspan x="1116" dy="3.4">0.01%</tspan><tspan x="1116" dy="3.4">(2)</tspan></text></g>
<g id="n_z2"><rect class="nv" x="1628" y="547" width="47" height="15"/><text class="t" x="1651.5" y="551">vec::reduce_all<tspan x="1651.5" dy="3.4">1.86s</tspan><tspan x="1651.5" dy="3.4">0.05%</tspan><tspan x="1651.5" dy="3.4">(2)</tspan></text></g>
<g id="n_z3"><rect class="nv" x="1743" y="547" width="48" height="15"/><text class="t" x="1767" y="551">ttwu_do_activate<tspan x="1767" dy="3.4">1.86s</tspan><tspan x="1767" dy="3.4">0.05%</tspan><tspan x="1767" dy="3.4">(2)</tspan></text></g>
<g id="n_q1"><rect class="nv" x="1631" y="575" width="42" height="15"/><text class="t" x="1652" y="579">_mm512_add_ps<tspan x="1652" dy="3.4">0.86s</tspan><tspan x="1652" dy="3.4">0.02%</tspan><tspan x="1652" dy="3.4">(2)</tspan></text></g>
<g id="n_q2"><rect class="nv" x="1752" y="575" width="30" height="15"/><text class="t" x="1767" y="579">enqueue<tspan x="1767" dy="3.4">1.88s</tspan><tspan x="1767" dy="3.4">0.05%</tspan><tspan x="1767" dy="3.4">(2)</tspan></text></g>
<g id="n_k1"><rect class="nv" x="1741" y="603" width="52" height="15"/><text class="t" x="1767" y="607">enqueue_task_fair<tspan x="1767" dy="3.4">1.86s</tspan><tspan x="1767" dy="3.4">0.05%</tspan><tspan x="1767" dy="3.4">(2)</tspan></text></g>
<g id="n_k2"><rect class="nv" x="1734" y="630" width="66" height="15"/><text class="t" x="1767" y="634">update_load_avg_cfs_rq<tspan x="1767" dy="3.4">1.86s</tspan><tspan x="1767" dy="3.4">0.05%</tspan><tspan x="1767" dy="3.4">(2)</tspan></text></g>
</svg>
